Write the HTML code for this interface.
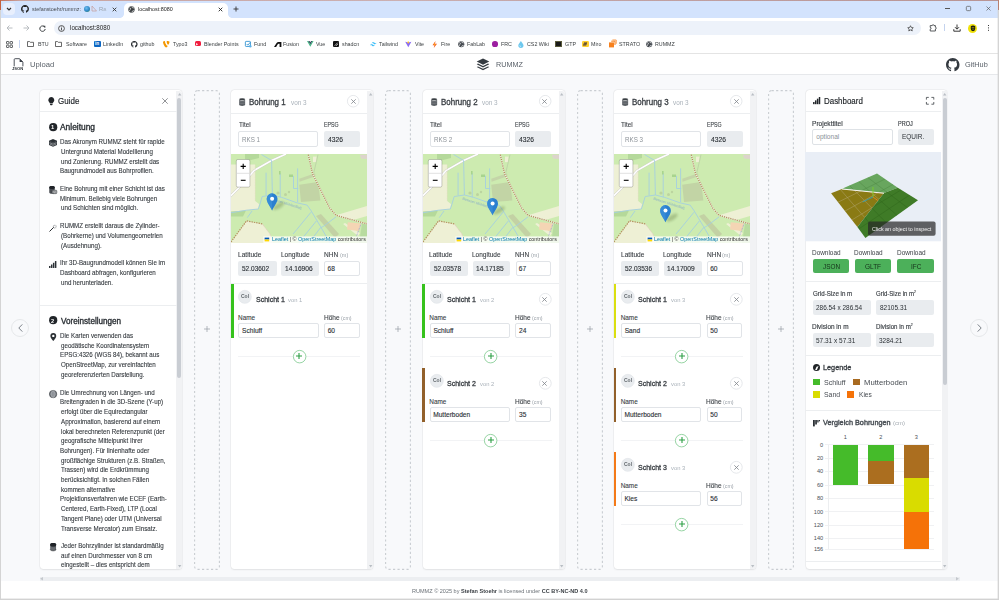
<!DOCTYPE html>
<html><head><meta charset="utf-8">
<style>
*{box-sizing:border-box;margin:0;padding:0}
html,body{width:999px;height:600px;overflow:hidden;background:#fff;font-family:"Liberation Sans",sans-serif;color:#212529;position:relative}
.a{position:absolute}
.n{position:absolute;white-space:nowrap;line-height:1}
svg{position:absolute;overflow:visible}
</style></head><body>
<!-- tab bar -->
<div class="a" style="left:0;top:0;width:999px;height:18px;background:#d3e3fd;border-radius:2px 4px 0 0"></div>
<div class="a" style="left:3px;top:3px;width:12px;height:12px;border-radius:4px;background:#e8effd"></div>
<svg style="left:6px;top:7px" width="6" height="4" viewBox="0 0 6 4"><path d="M1 1 L3 3 L5 1" stroke="#333" stroke-width="1.2" fill="none"/></svg>
<svg style="left:21px;top:5px" width="8" height="8" viewBox="0 0 16 16"><path fill="#222" d="M8 0C3.58 0 0 3.58 0 8c0 3.54 2.29 6.53 5.47 7.59.4.07.55-.17.55-.38 0-.19-.01-.82-.01-1.49-2.010.37-2.530-.49-2.690-.94-.09-.23-.48-.94-.82-1.13-.28-.15-.68-.52-.01-.53.63-.01 1.080.58 1.230.82.72 1.21 1.870.87 2.330.66.07-.52.28-.87.51-1.07-1.780-.2-3.640-.89-3.640-3.95 0-.87.31-1.59.82-2.150-.08-.2-.36-1.02.08-2.12 0 0 .67-.21 2.2.82.64-.18 1.320-.27 2-.27.68 0 1.360.09 2 .27 1.530-1.040 2.2-.82 2.2-.82.44 1.1.16 1.92.08 2.120.51.56.82 1.270.82 2.150 0 3.070-1.870 3.750-3.650 3.950.29.25.54.73.54 1.48 0 1.070-.01 1.930-.01 2.2 0 .21.15.46.55.38A8.013 8.013 0 0016 8c0-4.42-3.58-8-8-8z"/></svg>
<div class="n" style="left:32.46px;top:7.20px;font-size:5.8px;color:#474b50;transform:scaleX(0.927);transform-origin:0 0;">stefanstoehr/rummz:</div>
<div class="a" style="left:84px;top:6px;width:6px;height:6px;border-radius:50%;background:radial-gradient(circle at 40% 35%,#6ec0f0 0,#2f86c8 55%,#3a8a40 100%)"></div>
<svg style="left:91px;top:5px" width="6" height="7" viewBox="0 0 6 7"><path d="M1 1 L1 6 L5.5 6 Z" fill="none" stroke="#c7a2a2" stroke-width=".8"/></svg>
<div class="n" style="left:98.52px;top:7.20px;font-size:5.8px;color:#9aa3ad;transform:scaleX(1.007);transform-origin:0 0;">Ra</div>
<div class="a" style="left:104px;top:3px;width:5px;height:12px;background:linear-gradient(90deg,rgba(211,227,253,0),#d3e3fd)"></div>
<svg style="left:112px;top:7px" width="5" height="5" viewBox="0 0 5 5"><path d="M.7 .7L4.3 4.3M4.3 .7L.7 4.3" stroke="#333" stroke-width=".9"/></svg>
<!-- active tab -->
<div class="a" style="left:124px;top:3px;width:104px;height:16px;background:#fff;border-radius:5px 5px 0 0"></div>
<div class="a" style="left:120px;top:14px;width:4px;height:4px;background:radial-gradient(circle at 0 0,#d3e3fd 3.5px,#fff 4.2px)"></div>
<div class="a" style="left:228px;top:14px;width:4px;height:4px;background:radial-gradient(circle at 100% 0,#d3e3fd 3.5px,#fff 4.2px)"></div>
<svg style="left:128px;top:6px" width="7" height="7" viewBox="0 0 16 16"><circle cx="8" cy="8" r="7.2" fill="#3c4043"/><path d="M3 4c2 0 3 1 3 2.5S5 8 4 9s0 3 0 3M9 1.5c0 2 1 2.5 2.5 2.5S14 5 14 5M9 14.5c0-2 1-3 2.5-3.5s2.5 0 2.5 0" stroke="#fff" stroke-width="1.6" fill="none"/></svg>
<div class="n" style="left:137.64px;top:7.20px;font-size:5.8px;color:#1f1f1f;transform:scaleX(0.932);transform-origin:0 0;">localhost:8080</div>
<svg style="left:218px;top:7px" width="5" height="5" viewBox="0 0 5 5"><path d="M.7 .7L4.3 4.3M4.3 .7L.7 4.3" stroke="#222" stroke-width=".9"/></svg>
<svg style="left:233px;top:6px" width="6" height="6" viewBox="0 0 6 6"><path d="M3 .5V5.5M.5 3H5.5" stroke="#333" stroke-width=".9"/></svg>
<!-- window controls -->
<div class="a" style="left:945px;top:8.3px;width:5px;height:.7px;background:#555"></div>
<svg style="left:965.5px;top:6.3px" width="5" height="5" viewBox="0 0 5 5"><rect x=".35" y=".35" width="4.3" height="4.3" rx="1" fill="none" stroke="#555" stroke-width=".7"/></svg>
<svg style="left:986px;top:6px" width="5" height="5" viewBox="0 0 5 5"><path d="M.5 .5L4.5 4.5M4.5 .5L.5 4.5" stroke="#555" stroke-width=".65"/></svg>
<!-- toolbar -->
<div class="a" style="left:0;top:18px;width:999px;height:18px;background:#fff"></div>
<svg style="left:6px;top:25px" width="7" height="6" viewBox="0 0 7 6"><path d="M6.5 3H1M3.5 .5L1 3L3.5 5.5" stroke="#b8bcc0" stroke-width="1" fill="none"/></svg>
<svg style="left:23px;top:25px" width="7" height="6" viewBox="0 0 7 6"><path d="M.5 3H6M3.5 .5L6 3L3.5 5.5" stroke="#b8bcc0" stroke-width="1" fill="none"/></svg>
<svg style="left:39px;top:24.5px" width="7" height="7" viewBox="0 0 7 7"><path d="M5.8 2.2A2.7 2.7 0 1 0 6.2 4" stroke="#3c4043" stroke-width="1" fill="none"/><path d="M4 .8H6.3V3.1Z" fill="#3c4043"/></svg>
<div class="a" style="left:54px;top:21px;width:867px;height:14px;border-radius:7px;background:#edf2fa"></div>
<svg style="left:58px;top:24.5px" width="7" height="7" viewBox="0 0 7 7"><circle cx="3.5" cy="3.5" r="2.9" stroke="#444" stroke-width=".9" fill="none"/><path d="M3.5 3V5.3" stroke="#444" stroke-width=".9"/><circle cx="3.5" cy="1.9" r=".5" fill="#444"/></svg>
<div class="n" style="left:69.59px;top:25.00px;font-size:6.3px;color:#1f1f1f;transform:scaleX(0.991);transform-origin:0 0;">localhost:8080</div>
<svg style="left:907px;top:24.5px" width="7" height="7" viewBox="0 0 24 24"><path d="M12 2.5l2.9 6.2 6.6.6-5 4.5 1.5 6.6L12 17l-6 3.4 1.5-6.6-5-4.5 6.6-.6z" fill="none" stroke="#333" stroke-width="2.4"/></svg>
<svg style="left:929px;top:24px" width="8" height="8" viewBox="0 0 8 8"><path d="M1.2 1.6H3.2A.9 .9 0 0 1 5 1.6H6.4V3.2A.9 .9 0 0 1 6.4 5V7H1.2V5.2A.9 .9 0 0 0 1.2 3.4Z" fill="none" stroke="#3c4043" stroke-width=".85"/></svg>
<div class="a" style="left:944px;top:24px;width:1px;height:7px;background:#c4d3ee"></div>
<svg style="left:953px;top:24px" width="8" height="8" viewBox="0 0 8 8"><path d="M4 .5V5M2 3.2L4 5.2L6 3.2M.8 5.2V7.2H7.2V5.2" stroke="#222" stroke-width=".9" fill="none"/></svg>
<div class="a" style="left:968px;top:23.5px;width:9px;height:9px;border-radius:50%;background:#f0e20a"></div>
<svg style="left:969.5px;top:25px" width="6" height="6.5" viewBox="0 0 6 6.5"><path d="M.8 1.2Q3 0 5.2 1.2V3.6Q5.2 6.2 3 6.2Q.8 6.2 .8 3.6Z" fill="#151515"/><path d="M1.6 2.4H4.4" stroke="#f0e20a" stroke-width=".5"/><path d="M1.8 3.8Q3 4.8 4.2 3.8" stroke="#f0e20a" stroke-width=".5" fill="none"/></svg>
<div class="a" style="left:988px;top:25px;width:1.2px;height:1.2px;background:#333;box-shadow:0 2.4px 0 #333,0 4.8px 0 #333"></div>
<!-- bookmarks bar -->
<div class="a" style="left:0;top:36px;width:999px;height:17px;background:#fff"></div>
<div class="a" style="left:0;top:52.5px;width:999px;height:1px;background:#e4e4e4"></div>
<svg style="left:6px;top:41px" width="7" height="7" viewBox="0 0 7 7"><rect x=".5" y=".5" width="2.4" height="2.4" rx=".4" fill="none" stroke="#3c4043" stroke-width=".8"/><rect x="4.1" y=".5" width="2.4" height="2.4" rx=".4" fill="none" stroke="#3c4043" stroke-width=".8"/><rect x=".5" y="4.1" width="2.4" height="2.4" rx=".4" fill="none" stroke="#3c4043" stroke-width=".8"/><rect x="4.1" y="4.1" width="2.4" height="2.4" rx=".4" fill="none" stroke="#3c4043" stroke-width=".8"/></svg>
<div class="a" style="left:19px;top:40px;width:1px;height:8px;background:#c8d6f0"></div>
<!-- bookmarks -->
<svg style="left:27px;top:41px" width="7" height="6" viewBox="0 0 7 6"><path d="M.5 .6H2.6L3.3 1.3H6.5V5.5H.5Z" fill="none" stroke="#444" stroke-width=".8"/></svg>
<div class="n" style="left:37.56px;top:42.10px;font-size:5.6px;color:#3c4043;transform:scaleX(0.950);transform-origin:0 0;">BTU</div>
<svg style="left:55px;top:41px" width="7" height="6" viewBox="0 0 7 6"><path d="M.5 .6H2.6L3.3 1.3H6.5V5.5H.5Z" fill="none" stroke="#444" stroke-width=".8"/></svg>
<div class="n" style="left:65.77px;top:42.10px;font-size:5.6px;color:#3c4043;transform:scaleX(0.950);transform-origin:0 0;">Software</div>
<div class="a" style="left:94px;top:40.8px;width:6.5px;height:6.5px;background:#0a66c2;border-radius:1px"></div><div class="n" style="left:95.1px;top:41.6px;font-size:4.6px;font-weight:700;color:#fff">in</div>
<div class="n" style="left:103.31px;top:42.10px;font-size:5.6px;color:#3c4043;transform:scaleX(0.950);transform-origin:0 0;">LinkedIn</div>
<svg style="left:130.7px;top:40.7px" width="6.6" height="6.6" viewBox="0 0 16 16"><path fill="#1f2328" d="M8 0C3.58 0 0 3.58 0 8c0 3.54 2.290 6.530 5.470 7.590.4.07.55-.17.55-.38 0-.19-.01-.82-.01-1.490-2.010.37-2.530-.49-2.690-.94-.09-.23-.48-.94-.82-1.130-.28-.15-.68-.52-.01-.53.63-.01 1.080.58 1.230.82.72 1.210 1.870.87 2.330.66.07-.52.28-.87.51-1.070-1.780-.2-3.640-.89-3.640-3.950 0-.87.31-1.590.82-2.150-.08-.2-.36-1.020.08-2.120 0 0 .67-.21 2.2.82.64-.18 1.320-.27 2-.27.68 0 1.360.09 2 .27 1.530-1.040 2.2-.82 2.2-.82.44 1.1.16 1.920.08 2.120.51.56.82 1.270.82 2.150 0 3.070-1.870 3.750-3.650 3.950.29.25.54.73.54 1.480 0 1.070-.01 1.930-.01 2.2 0 .21.15.46.55.38A8.013 8.013 0 0016 8c0-4.420-3.580-8-8-8z"/></svg>
<div class="n" style="left:140.08px;top:42.10px;font-size:5.6px;color:#3c4043;transform:scaleX(0.950);transform-origin:0 0;">github</div>
<svg style="left:163px;top:40.5px" width="6.5" height="7" viewBox="0 0 13 14"><path d="M9.5 9.5C9.3 9.6 9 9.6 8.8 9.6 6.9 9.6 4 3 4 0.8 4 .5 4.1.2 4.2 0 2 .3 .5.9 0 1.6 0 1.8 0 2 0 2.1 0 5.4 3.6 13 6.2 13c1.2 0 3.1-2 3.3-3.5zM8 0C10.4 0 13 .4 13 1.700c0 2.500-1.600 5.600-2.400 5.600-1.500 0-3.300-4-3.300-6C7.300.400 7.600 0 8 0z" fill="#f49700"/></svg>
<div class="n" style="left:172.68px;top:42.10px;font-size:5.6px;color:#3c4043;transform:scaleX(0.950);transform-origin:0 0;">Typo3</div>
<div class="a" style="left:194.5px;top:41.2px;width:6.8px;height:5px;background:#f01d3e;border-radius:1.5px"></div><svg style="left:195.6px;top:42.6px" width="2.2" height="2.4" viewBox="0 0 2 2.4"><path d="M0 0L2 1.2L0 2.4Z" fill="#fff"/></svg>
<div class="n" style="left:203.96px;top:42.10px;font-size:5.6px;color:#3c4043;transform:scaleX(0.950);transform-origin:0 0;">Blender Points</div>
<svg style="left:244.8px;top:40.6px" width="6.6" height="6.6" viewBox="0 0 7 7"><rect x=".4" y=".4" width="5.4" height="5.4" rx=".8" fill="none" stroke="#2b8fd0" stroke-width=".9"/><path d="M1.8 3.2L3 4.4L5.8 1.2" stroke="#2b8fd0" stroke-width=".9" fill="none"/><circle cx="5.6" cy="5.6" r="1.3" fill="#5ab0e8"/></svg>
<div class="n" style="left:254.26px;top:42.10px;font-size:5.6px;color:#3c4043;transform:scaleX(0.950);transform-origin:0 0;">Fund</div>
<svg style="left:273.7px;top:41.5px" width="7.4" height="5" viewBox="0 0 7.4 5"><path d="M0 5L2.6 1Q3.4 0 4.4 0H7.4V5H5.6V1.8H4.6Q4 1.8 3.6 2.5L2.1 5Z" fill="#111"/></svg>
<div class="n" style="left:283.31px;top:42.10px;font-size:5.6px;color:#3c4043;transform:scaleX(0.950);transform-origin:0 0;">Fusion</div>
<svg style="left:307px;top:41.2px" width="6.6" height="5.8" viewBox="0 0 26 23"><path d="M0 0L13 22.5L26 0H21L13 14L5 0Z" fill="#41b883"/><path d="M5 0L13 14L21 0H16L13 5.3L10 0Z" fill="#35495e"/></svg>
<div class="n" style="left:315.98px;top:42.10px;font-size:5.6px;color:#3c4043;transform:scaleX(0.950);transform-origin:0 0;">Vue</div>
<div class="a" style="left:332.6px;top:40.7px;width:6.5px;height:6.5px;background:#111;border-radius:1px"></div><svg style="left:333.70000000000005px;top:41.8px" width="4.4" height="4.4" viewBox="0 0 4 4"><path d="M3.4.6L.6 3.4M3.6 1.8L1.8 3.6" stroke="#fff" stroke-width=".6"/></svg>
<div class="n" style="left:342.46px;top:42.10px;font-size:5.6px;color:#3c4043;transform:scaleX(0.950);transform-origin:0 0;">shadcn</div>
<svg style="left:369.5px;top:41.5px" width="6.6" height="4.4" viewBox="0 0 54 33"><path fill="#38bdf8" d="M27 0c-7.2 0-11.7 3.600-13.500 10.800 2.700-3.600 5.850-4.950 9.450-4.050 2.054.513 3.522 2.004 5.147 3.653C30.744 13.090 33.808 16.200 40.500 16.200c7.200 0 11.700-3.600 13.500-10.800-2.700 3.600-5.850 4.950-9.450 4.050-2.054-.513-3.522-2.004-5.147-3.653C36.756 3.110 33.692 0 27 0zM13.500 16.200C6.300 16.200 1.800 19.800 0 27c2.700-3.600 5.850-4.950 9.450-4.050 2.054.514 3.522 2.004 5.147 3.653C17.244 29.290 20.308 32.400 27 32.400c7.200 0 11.700-3.600 13.500-10.800-2.700 3.600-5.850 4.950-9.450 4.050-2.054-.513-3.522-2.004-5.147-3.653C23.256 19.310 20.192 16.200 13.500 16.200z"/></svg>
<div class="n" style="left:378.88px;top:42.10px;font-size:5.6px;color:#3c4043;transform:scaleX(0.950);transform-origin:0 0;">Tailwind</div>
<svg style="left:405.3px;top:41px" width="6.6" height="6.4" viewBox="0 0 10 10"><path d="M.2 1.2L5 9.6L9.8 1.2L5 2.2Z" fill="#8a6cf5"/><path d="M5.5 .2L3.3 1.6L4.8 4.8L5.2 3.2L6.4 3.4Z" fill="#ffc517"/></svg>
<div class="n" style="left:415.18px;top:42.10px;font-size:5.6px;color:#3c4043;transform:scaleX(0.950);transform-origin:0 0;">Vite</div>
<svg style="left:432px;top:40.6px" width="5.5" height="7" viewBox="0 0 11 14"><path d="M7 0L1 8.5H5L3.5 14L10 5.5H6Z" fill="#ef4b22"/><path d="M6 2.5L3 7.5H5.5L4.5 11L8 6.5H6Z" fill="#ffb020"/></svg>
<div class="n" style="left:440.86px;top:42.10px;font-size:5.6px;color:#3c4043;transform:scaleX(0.950);transform-origin:0 0;">Fire</div>
<svg style="left:457.7px;top:40.7px" width="6.5" height="6.5" viewBox="0 0 16 16"><circle cx="8" cy="8" r="7.5" fill="#474c52"/><path d="M3 4c2 0 3 1 3 2.500S5 8 4 9s0 3 0 3M9 1.500c0 2 1 2.500 2.500 2.500S14 5 14 5M9 14.500c0-2 1-3 2.500-3.500s2.500 0 2.500 0" stroke="#fff" stroke-width="1.700" fill="none"/></svg>
<div class="n" style="left:466.56px;top:42.10px;font-size:5.6px;color:#3c4043;transform:scaleX(0.950);transform-origin:0 0;">FabLab</div>
<div class="a" style="left:492px;top:41.2px;width:5.7px;height:5.7px;border-radius:50%;background:#9c1ea0"></div>
<div class="n" style="left:500.56px;top:42.10px;font-size:5.6px;color:#3c4043;transform:scaleX(0.950);transform-origin:0 0;">FRC</div>
<svg style="left:518.3px;top:40.5px" width="5.8" height="7" viewBox="0 0 10 12"><path d="M5 0C3 3 .5 5.5.5 7.5A4.5 4.5 0 0 0 9.5 7.5C9.5 5.5 7 3 5 0Z" fill="#6ec8ee"/><path d="M3 7.5A2 2 0 0 0 5 9.5" stroke="#fff" stroke-width=".9" fill="none"/></svg>
<div class="n" style="left:527.13px;top:42.10px;font-size:5.6px;color:#3c4043;transform:scaleX(0.950);transform-origin:0 0;">CS2 Wiki</div>
<div class="a" style="left:555px;top:40.7px;width:6.5px;height:6.5px;background:#1a1a1a;border:.7px solid #5a5a3a"></div>
<div class="n" style="left:564.53px;top:42.10px;font-size:5.6px;color:#3c4043;transform:scaleX(0.950);transform-origin:0 0;">GTP</div>
<div class="a" style="left:582px;top:40.7px;width:6.5px;height:6.5px;background:#ffd02f;border-radius:1.3px"></div><svg style="left:583.1px;top:42px" width="4" height="4" viewBox="0 0 4 4"><path d="M.5 3.6L1.6.4M1.6 3.6L2.7.4M2.7 3.6L3.6.4" stroke="#050038" stroke-width=".7"/></svg>
<div class="n" style="left:590.81px;top:42.10px;font-size:5.6px;color:#3c4043;transform:scaleX(0.950);transform-origin:0 0;">Miro</div>
<svg style="left:609.4px;top:40.3px" width="7.2" height="7.4" viewBox="0 0 7.2 7.4"><rect x="0" y="2.4" width="5" height="5" fill="#f7811e"/><path d="M2.2 1.2H6V5" stroke="#f7811e" stroke-width="1" fill="none"/><path d="M3.4 0H7.2V3.8" stroke="#f7811e" stroke-width=".8" fill="none"/></svg>
<div class="n" style="left:619.07px;top:42.10px;font-size:5.6px;color:#3c4043;transform:scaleX(0.950);transform-origin:0 0;">STRATO</div>
<svg style="left:645.7px;top:40.7px" width="6.5" height="6.5" viewBox="0 0 16 16"><circle cx="8" cy="8" r="7.5" fill="#474c52"/><path d="M3 4c2 0 3 1 3 2.500S5 8 4 9s0 3 0 3M9 1.500c0 2 1 2.500 2.500 2.500S14 5 14 5M9 14.500c0-2 1-3 2.500-3.500s2.500 0 2.500 0" stroke="#fff" stroke-width="1.700" fill="none"/></svg>
<div class="n" style="left:654.96px;top:42.10px;font-size:5.6px;color:#3c4043;transform:scaleX(0.950);transform-origin:0 0;">RUMMZ</div>
<div class="a" style="left:0px;top:53.5px;width:999.00px;height:21.50px;background:#fff"></div>
<div class="a" style="left:0px;top:74.3px;width:999.00px;height:1.00px;background:#e6e8eb"></div>
<svg style="left:12.5px;top:58px" width="11" height="13" viewBox="0 0 11 13"><path d="M1.2 8.3V1.6Q1.2 .7 2.1 .7H6.6L9.9 4V8.3" fill="none" stroke="#3a4048" stroke-width=".9"/><path d="M6.6 .7V4H9.9Z" fill="#3a4048"/></svg>
<div class="n" style="left:11.94px;top:67.80px;font-size:3.8px;font-weight:700;color:#2d3339;transform:scaleX(1.095);transform-origin:0 0;">JSON</div>
<div class="n" style="left:30.22px;top:61.00px;font-size:7.4px;color:#5a6169;transform:scaleX(1.035);transform-origin:0 0;">Upload</div>
<svg style="left:476px;top:57.5px" width="14" height="13" viewBox="0 0 14 13"><path d="M7 .5L13.3 3.6L7 6.7L.7 3.6Z" fill="#343a40"/><path d="M2 5.6L.7 6.3L7 9.4L13.3 6.3L12 5.6L7 8Z" fill="#343a40"/><path d="M2 8.4L.7 9.1L7 12.2L13.3 9.1L12 8.4L7 10.8Z" fill="#343a40"/></svg>
<div class="n" style="left:496.21px;top:61.20px;font-size:7.4px;color:#5a6169;transform:scaleX(0.978);transform-origin:0 0;">RUMMZ</div>
<svg style="left:945.5px;top:58px" width="13.5" height="13.5" viewBox="0 0 16 16"><path fill="#343a40" d="M8 0C3.58 0 0 3.58 0 8c0 3.54 2.29 6.53 5.47 7.59.4.07.55-.17.55-.38 0-.19-.01-.82-.01-1.49-2.01.37-2.53-.49-2.69-.94-.09-.23-.48-.94-.82-1.13-.28-.15-.68-.52-.01-.53.63-.01 1.08.58 1.23.82.72 1.21 1.87.87 2.33.66.07-.52.28-.87.51-1.07-1.78-.2-3.64-.89-3.64-3.95 0-.87.31-1.59.82-2.15-.08-.2-.36-1.02.08-2.12 0 0 .67-.21 2.2.82.64-.18 1.32-.27 2-.27.68 0 1.36.09 2 .27 1.53-1.04 2.2-.82 2.2-.82.44 1.1.16 1.92.08 2.12.51.56.82 1.27.82 2.15 0 3.07-1.87 3.75-3.65 3.95.29.25.54.73.54 1.48 0 1.07-.01 1.93-.01 2.2 0 .21.15.46.55.38A8.013 8.013 0 0016 8c0-4.42-3.58-8-8-8z"/></svg>
<div class="n" style="left:965.33px;top:61.00px;font-size:7.4px;color:#5a6169;transform:scaleX(0.988);transform-origin:0 0;">GitHub</div>
<div class="a" style="left:0px;top:75.3px;width:999.00px;height:505.70px;background:#f8f9fb"></div>
<div class="a" style="left:40px;top:576.5px;width:920.00px;height:4.00px;background:#eceef1"></div>
<svg style="left:40px;top:576.8px" width="3" height="3.4" viewBox="0 0 3 3.4"><path d="M3 0V3.4L0 1.7Z" fill="#c4c8cd"/></svg>
<svg style="left:955.5px;top:576.8px" width="3" height="3.4" viewBox="0 0 3 3.4"><path d="M0 0V3.4L3 1.7Z" fill="#c4c8cd"/></svg>
<div class="a" style="left:0px;top:581px;width:999.00px;height:18.00px;background:#fff"></div>
<div class="n" style="left:411.75px;top:588.60px;font-size:5.6px;color:#6c7278;transform:scaleX(0.990);transform-origin:0 0;">RUMMZ © 2025 by <b style="color:#3a3f44">Stefan Stoehr</b> is licensed under <b style="color:#3a3f44">CC BY-NC-ND 4.0</b></div>
<svg style="left:10.5px;top:318.5px" width="18" height="18" viewBox="0 0 18 18"><circle cx="9" cy="9" r="8.5" fill="none" stroke="#e3e5e8" stroke-width=".9"/></svg>
<svg style="left:17.5px;top:323.5px" width="5" height="8" viewBox="0 0 5 8"><path d="M4.3 .4L.8 4L4.3 7.6" fill="none" stroke="#6c737a" stroke-width=".9"/></svg>
<svg style="left:970px;top:318.5px" width="18" height="18" viewBox="0 0 18 18"><circle cx="9" cy="9" r="8.5" fill="none" stroke="#e3e5e8" stroke-width=".9"/></svg>
<svg style="left:976.5px;top:323.5px" width="5" height="8" viewBox="0 0 5 8"><path d="M.7 .4L4.2 4L.7 7.6" fill="none" stroke="#6c737a" stroke-width=".9"/></svg>
<svg style="left:193.8px;top:89.8px" width="26" height="480" viewBox="0 0 26 480"><rect x=".6" y=".6" width="24.8" height="478.8" rx="3" fill="none" stroke="#c9cdd2" stroke-width="1.1" stroke-dasharray="2.2 2.3"/></svg>
<svg style="left:203.8px;top:326px" width="6" height="6" viewBox="0 0 6 6"><path d="M3 0V6M0 3H6" stroke="#959ca3" stroke-width=".7"/></svg>
<svg style="left:385.3px;top:89.8px" width="26" height="480" viewBox="0 0 26 480"><rect x=".6" y=".6" width="24.8" height="478.8" rx="3" fill="none" stroke="#c9cdd2" stroke-width="1.1" stroke-dasharray="2.2 2.3"/></svg>
<svg style="left:395.3px;top:326px" width="6" height="6" viewBox="0 0 6 6"><path d="M3 0V6M0 3H6" stroke="#959ca3" stroke-width=".7"/></svg>
<svg style="left:576.8px;top:89.8px" width="26" height="480" viewBox="0 0 26 480"><rect x=".6" y=".6" width="24.8" height="478.8" rx="3" fill="none" stroke="#c9cdd2" stroke-width="1.1" stroke-dasharray="2.2 2.3"/></svg>
<svg style="left:586.8px;top:326px" width="6" height="6" viewBox="0 0 6 6"><path d="M3 0V6M0 3H6" stroke="#959ca3" stroke-width=".7"/></svg>
<svg style="left:768.1px;top:89.8px" width="26" height="480" viewBox="0 0 26 480"><rect x=".6" y=".6" width="24.8" height="478.8" rx="3" fill="none" stroke="#c9cdd2" stroke-width="1.1" stroke-dasharray="2.2 2.3"/></svg>
<svg style="left:778.1px;top:326px" width="6" height="6" viewBox="0 0 6 6"><path d="M3 0V6M0 3H6" stroke="#959ca3" stroke-width=".7"/></svg>
<div class="a" style="left:40px;top:90.2px;width:142.4px;height:479.3px;background:#fff;border-radius:3.5px;box-shadow:0 0 0 .6px rgba(0,0,0,.05),0 .5px 2px rgba(0,0,0,.07)"></div>
<div class="a" style="left:176.4px;top:91px;width:6px;height:478px;background:#f1f2f4;border-radius:0 3px 3px 0"></div>
<svg style="left:177.8px;top:92.6px" width="3.4" height="2.6" viewBox="0 0 3.4 2.6"><path d="M0 2.6H3.4L1.7 0Z" fill="#b9bec4"/></svg>
<svg style="left:177.8px;top:565.4px" width="3.4" height="2.6" viewBox="0 0 3.4 2.6"><path d="M0 0H3.4L1.7 2.6Z" fill="#b9bec4"/></svg>
<div class="a" style="left:177.4px;top:98px;width:4px;height:280px;background:#c9cdd3;border-radius:2px"></div>
<div class="a" style="left:231.3px;top:90.2px;width:142.0px;height:479.3px;background:#fff;border-radius:3.5px;box-shadow:0 0 0 .6px rgba(0,0,0,.05),0 .5px 2px rgba(0,0,0,.07)"></div>
<div class="a" style="left:367.3px;top:91px;width:6px;height:478px;background:#f1f2f4;border-radius:0 3px 3px 0"></div>
<svg style="left:368.7px;top:92.6px" width="3.4" height="2.6" viewBox="0 0 3.4 2.6"><path d="M0 2.6H3.4L1.7 0Z" fill="#b9bec4"/></svg>
<svg style="left:368.7px;top:565.4px" width="3.4" height="2.6" viewBox="0 0 3.4 2.6"><path d="M0 0H3.4L1.7 2.6Z" fill="#b9bec4"/></svg>
<div class="a" style="left:422.6px;top:90.2px;width:142.0px;height:479.3px;background:#fff;border-radius:3.5px;box-shadow:0 0 0 .6px rgba(0,0,0,.05),0 .5px 2px rgba(0,0,0,.07)"></div>
<div class="a" style="left:558.6px;top:91px;width:6px;height:478px;background:#f1f2f4;border-radius:0 3px 3px 0"></div>
<svg style="left:560.0px;top:92.6px" width="3.4" height="2.6" viewBox="0 0 3.4 2.6"><path d="M0 2.6H3.4L1.7 0Z" fill="#b9bec4"/></svg>
<svg style="left:560.0px;top:565.4px" width="3.4" height="2.6" viewBox="0 0 3.4 2.6"><path d="M0 0H3.4L1.7 2.6Z" fill="#b9bec4"/></svg>
<div class="a" style="left:613.9px;top:90.2px;width:142.0px;height:479.3px;background:#fff;border-radius:3.5px;box-shadow:0 0 0 .6px rgba(0,0,0,.05),0 .5px 2px rgba(0,0,0,.07)"></div>
<div class="a" style="left:749.9px;top:91px;width:6px;height:478px;background:#f1f2f4;border-radius:0 3px 3px 0"></div>
<svg style="left:751.3px;top:92.6px" width="3.4" height="2.6" viewBox="0 0 3.4 2.6"><path d="M0 2.6H3.4L1.7 0Z" fill="#b9bec4"/></svg>
<svg style="left:751.3px;top:565.4px" width="3.4" height="2.6" viewBox="0 0 3.4 2.6"><path d="M0 0H3.4L1.7 2.6Z" fill="#b9bec4"/></svg>
<div class="a" style="left:805.7px;top:90.2px;width:141.79999999999995px;height:479.3px;background:#fff;border-radius:3.5px;box-shadow:0 0 0 .6px rgba(0,0,0,.05),0 .5px 2px rgba(0,0,0,.07)"></div>
<div class="a" style="left:941.5px;top:91px;width:6px;height:478px;background:#f1f2f4;border-radius:0 3px 3px 0"></div>
<svg style="left:942.9px;top:92.6px" width="3.4" height="2.6" viewBox="0 0 3.4 2.6"><path d="M0 2.6H3.4L1.7 0Z" fill="#b9bec4"/></svg>
<svg style="left:942.9px;top:565.4px" width="3.4" height="2.6" viewBox="0 0 3.4 2.6"><path d="M0 0H3.4L1.7 2.6Z" fill="#b9bec4"/></svg>
<div class="a" style="left:942.5px;top:98px;width:4px;height:287px;background:#c9cdd3;border-radius:2px"></div>
<svg style="left:47.8px;top:96.8px" width="6.6" height="8.2" viewBox="0 0 12 15"><path d="M6 0A5.6 5.6 0 0 0 2.2 9.6C3.1 10.5 3.4 11.2 3.5 12H8.5C8.6 11.2 8.9 10.5 9.8 9.6A5.6 5.6 0 0 0 6 0Z" fill="#212529"/><path d="M3.7 13H8.3V13.8Q8.3 15 7 15H5Q3.7 15 3.7 13.8Z" fill="#212529"/></svg>
<div class="n" style="left:58.30px;top:97.50px;font-size:8.2px;color:#212529;transform:scaleX(0.976);transform-origin:0 0;-webkit-text-stroke:.15px #212529">Guide</div>
<svg style="left:162px;top:98px" width="6" height="6" viewBox="0 0 6 6"><path d="M.3 .3L5.7 5.7M5.7 .3L.3 5.7" stroke="#6c6f73" stroke-width=".75"/></svg>
<div class="a" style="left:40px;top:110.6px;width:136.5px;height:1px;background:#eceef0"></div>
<svg style="left:48.599999999999994px;top:122.8px" width="8.4" height="8.4" viewBox="0 0 8.4 8.4"><circle cx="4.2" cy="4.2" r="4.1" fill="#212529"/></svg>
<div class="n" style="left:51.09px;top:125.00px;font-size:5px;font-weight:700;color:#fff;transform:scaleX(1.154);transform-origin:0 0;">1</div>
<div class="n" style="left:60.48px;top:123.20px;font-size:8.3px;color:#2b3035;transform:scaleX(1.013);transform-origin:0 0;-webkit-text-stroke:.35px #2b3035">Anleitung</div>
<svg style="left:48.8px;top:139px" width="8" height="7.8" viewBox="0 0 16 15.6"><path d="M8 0L16 3.6V12L8 15.6L0 12V3.6Z" fill="#2b3035"/><path d="M1 7.2L8 10.2L15 7.2M1 9.8L8 12.8L15 9.8" stroke="#d0d3d6" stroke-width="1.1" fill="none"/><path d="M1 4.6L8 7.6L15 4.6" stroke="#6a6e72" stroke-width=".9" fill="none"/></svg>
<div class="n" style="left:60.49px;top:139.30px;font-size:6.4px;color:#33383d;transform:scaleX(0.970);transform-origin:0 0;-webkit-text-stroke:.1px #33383d">Das Akronym RUMMZ steht für rapide</div>
<div class="n" style="left:60.53px;top:149.00px;font-size:6.4px;color:#33383d;transform:scaleX(0.970);transform-origin:0 0;-webkit-text-stroke:.1px #33383d">Untergrund Material Modellierung</div>
<div class="n" style="left:60.60px;top:158.70px;font-size:6.4px;color:#33383d;transform:scaleX(0.970);transform-origin:0 0;-webkit-text-stroke:.1px #33383d">und Zonierung. RUMMZ erstellt das</div>
<div class="n" style="left:60.49px;top:168.40px;font-size:6.4px;color:#33383d;transform:scaleX(0.970);transform-origin:0 0;-webkit-text-stroke:.1px #33383d">Baugrundmodell aus Bohrprofilen.</div>
<svg style="left:49.3px;top:186.3px" width="8" height="7.8" viewBox="0 0 16 15.6"><path d="M.5 2.5C.5 1.1 3 0 6 0S11.5 1.1 11.5 2.5V13C11.5 14.4 9 15.5 6 15.5S.5 14.4.5 13Z" fill="#4a4e53"/><path d="M.5 2.5C.5 1.1 3 0 6 0S11.5 1.1 11.5 2.5V4C11.5 5.4 9 6 6 6S.5 5.4.5 4Z" fill="#1f2327"/><rect x="6.5" y="8.6" width="9" height="6.6" rx="1.2" fill="#fff" stroke="#2b3035" stroke-width="1.3"/><circle cx="9.3" cy="11.9" r="1.4" fill="none" stroke="#2b3035" stroke-width="1"/><circle cx="12.7" cy="11.9" r="1.4" fill="none" stroke="#2b3035" stroke-width="1"/></svg>
<div class="n" style="left:60.49px;top:186.00px;font-size:6.4px;color:#33383d;transform:scaleX(0.970);transform-origin:0 0;-webkit-text-stroke:.1px #33383d">Eine Bohrung mit einer Schicht ist das</div>
<div class="n" style="left:60.49px;top:195.70px;font-size:6.4px;color:#33383d;transform:scaleX(0.970);transform-origin:0 0;-webkit-text-stroke:.1px #33383d">Minimum. Beliebig viele Bohrungen</div>
<div class="n" style="left:60.60px;top:205.40px;font-size:6.4px;color:#33383d;transform:scaleX(0.970);transform-origin:0 0;-webkit-text-stroke:.1px #33383d">und Schichten sind möglich.</div>
<svg style="left:49px;top:223.5px" width="8" height="8" viewBox="0 0 16 16"><path d="M1 15L9.5 6.5" stroke="#1f2327" stroke-width="1.9"/><path d="M11.5 1.5V4M11.5 7V9.5M7.5 5.5H10M13 5.5H15.5M8.8 2.8L10 4M13 7L14.2 8.2M14.2 2.8L13 4" stroke="#5a5e63" stroke-width="1"/></svg>
<div class="n" style="left:60.49px;top:223.10px;font-size:6.4px;color:#33383d;transform:scaleX(0.970);transform-origin:0 0;-webkit-text-stroke:.1px #33383d">RUMMZ erstellt daraus die Zylinder-</div>
<div class="n" style="left:60.62px;top:232.80px;font-size:6.4px;color:#33383d;transform:scaleX(0.970);transform-origin:0 0;-webkit-text-stroke:.1px #33383d">(Bohrkerne) und Volumengeometrien</div>
<div class="n" style="left:60.62px;top:242.50px;font-size:6.4px;color:#33383d;transform:scaleX(0.970);transform-origin:0 0;-webkit-text-stroke:.1px #33383d">(Ausdehnung).</div>
<svg style="left:49px;top:261px" width="7.4" height="7" viewBox="0 0 15 14"><rect x="0" y="10" width="3" height="4" fill="#2b3035"/><rect x="4" y="7" width="3" height="7" fill="#2b3035"/><rect x="8" y="3.5" width="3" height="10.5" fill="#2b3035"/><rect x="12" y="0" width="3" height="14" fill="#2b3035"/></svg>
<div class="n" style="left:60.43px;top:260.30px;font-size:6.4px;color:#33383d;transform:scaleX(0.970);transform-origin:0 0;-webkit-text-stroke:.1px #33383d">Ihr 3D-Baugrundmodell können Sie im</div>
<div class="n" style="left:60.49px;top:270.00px;font-size:6.4px;color:#33383d;transform:scaleX(0.970);transform-origin:0 0;-webkit-text-stroke:.1px #33383d">Dashboard abfragen, konfigurieren</div>
<div class="n" style="left:60.60px;top:279.70px;font-size:6.4px;color:#33383d;transform:scaleX(0.970);transform-origin:0 0;-webkit-text-stroke:.1px #33383d">und herunterladen.</div>
<div class="a" style="left:40px;top:304.8px;width:136.5px;height:1px;background:#eceef0"></div>
<svg style="left:48.599999999999994px;top:316.3px" width="8.4" height="8.4" viewBox="0 0 8.4 8.4"><circle cx="4.2" cy="4.2" r="4.1" fill="#212529"/></svg>
<div class="n" style="left:51.26px;top:318.50px;font-size:5px;font-weight:700;color:#fff;transform:scaleX(1.116);transform-origin:0 0;">2</div>
<div class="n" style="left:60.67px;top:317.00px;font-size:8.3px;color:#2b3035;transform:scaleX(0.980);transform-origin:0 0;-webkit-text-stroke:.35px #2b3035">Voreinstellungen</div>
<svg style="left:49.7px;top:333px" width="6.6" height="8" viewBox="0 0 12 15"><path d="M6 0A5.5 5.5 0 0 0 .5 5.5C.5 9.5 6 15 6 15S11.5 9.5 11.5 5.5A5.5 5.5 0 0 0 6 0ZM6 3.3A2.2 2.2 0 1 1 6 7.7A2.2 2.2 0 1 1 6 3.3Z" fill="#2b3035" fill-rule="evenodd"/></svg>
<div class="n" style="left:60.49px;top:332.80px;font-size:6.4px;color:#33383d;transform:scaleX(0.970);transform-origin:0 0;-webkit-text-stroke:.1px #33383d">Die Karten verwenden das</div>
<div class="n" style="left:60.74px;top:342.50px;font-size:6.4px;color:#33383d;transform:scaleX(0.970);transform-origin:0 0;-webkit-text-stroke:.1px #33383d">geodätische Koordinatensystem</div>
<div class="n" style="left:60.49px;top:352.20px;font-size:6.4px;color:#33383d;transform:scaleX(0.970);transform-origin:0 0;-webkit-text-stroke:.1px #33383d">EPSG:4326 (WGS 84), bekannt aus</div>
<div class="n" style="left:60.71px;top:361.90px;font-size:6.4px;color:#33383d;transform:scaleX(0.970);transform-origin:0 0;-webkit-text-stroke:.1px #33383d">OpenStreetMap, zur vereinfachten</div>
<div class="n" style="left:60.74px;top:371.60px;font-size:6.4px;color:#33383d;transform:scaleX(0.970);transform-origin:0 0;-webkit-text-stroke:.1px #33383d">georeferenzierten Darstellung.</div>
<svg style="left:48.8px;top:389.8px" width="8.2" height="8.2" viewBox="0 0 16 16"><circle cx="8" cy="8" r="7.2" fill="#7d8187" stroke="#3f4348" stroke-width="1.4"/><ellipse cx="8" cy="8" rx="3.4" ry="6.6" fill="none" stroke="#c4c8cc" stroke-width="1"/><path d="M8 1.2V14.8" stroke="#c4c8cc" stroke-width="1"/><path d="M1.5 8H14.5" stroke="#9a9ea3" stroke-width=".7"/></svg>
<div class="n" style="left:60.49px;top:389.70px;font-size:6.4px;color:#33383d;transform:scaleX(0.970);transform-origin:0 0;-webkit-text-stroke:.1px #33383d">Die Umrechnung von Längen- und</div>
<div class="n" style="left:60.49px;top:399.40px;font-size:6.4px;color:#33383d;transform:scaleX(0.970);transform-origin:0 0;-webkit-text-stroke:.1px #33383d">Breitengraden in die 3D-Szene (Y-up)</div>
<div class="n" style="left:60.74px;top:409.10px;font-size:6.4px;color:#33383d;transform:scaleX(0.970);transform-origin:0 0;-webkit-text-stroke:.1px #33383d">erfolgt über die Equirectangular</div>
<div class="n" style="left:60.99px;top:418.80px;font-size:6.4px;color:#33383d;transform:scaleX(0.970);transform-origin:0 0;-webkit-text-stroke:.1px #33383d">Approximation, basierend auf einem</div>
<div class="n" style="left:60.59px;top:428.50px;font-size:6.4px;color:#33383d;transform:scaleX(0.970);transform-origin:0 0;-webkit-text-stroke:.1px #33383d">lokal berechneten Referenzpunkt (der</div>
<div class="n" style="left:60.74px;top:438.20px;font-size:6.4px;color:#33383d;transform:scaleX(0.970);transform-origin:0 0;-webkit-text-stroke:.1px #33383d">geografische Mittelpunkt Ihrer</div>
<div class="n" style="left:60.49px;top:447.90px;font-size:6.4px;color:#33383d;transform:scaleX(0.970);transform-origin:0 0;-webkit-text-stroke:.1px #33383d">Bohrungen). Für linienhafte oder</div>
<div class="n" style="left:60.74px;top:457.60px;font-size:6.4px;color:#33383d;transform:scaleX(0.970);transform-origin:0 0;-webkit-text-stroke:.1px #33383d">großflächige Strukturen (z.B. Straßen,</div>
<div class="n" style="left:60.86px;top:467.30px;font-size:6.4px;color:#33383d;transform:scaleX(0.970);transform-origin:0 0;-webkit-text-stroke:.1px #33383d">Trassen) wird die Erdkrümmung</div>
<div class="n" style="left:60.60px;top:477.00px;font-size:6.4px;color:#33383d;transform:scaleX(0.970);transform-origin:0 0;-webkit-text-stroke:.1px #33383d">berücksichtigt. In solchen Fällen</div>
<div class="n" style="left:60.59px;top:486.70px;font-size:6.4px;color:#33383d;transform:scaleX(0.970);transform-origin:0 0;-webkit-text-stroke:.1px #33383d">kommen alternative</div>
<div class="n" style="left:60.49px;top:496.40px;font-size:6.4px;color:#33383d;transform:scaleX(0.970);transform-origin:0 0;-webkit-text-stroke:.1px #33383d">Projektionsverfahren wie ECEF (Earth-</div>
<div class="n" style="left:60.69px;top:506.10px;font-size:6.4px;color:#33383d;transform:scaleX(0.970);transform-origin:0 0;-webkit-text-stroke:.1px #33383d">Centered, Earth-Fixed), LTP (Local</div>
<div class="n" style="left:60.86px;top:515.80px;font-size:6.4px;color:#33383d;transform:scaleX(0.970);transform-origin:0 0;-webkit-text-stroke:.1px #33383d">Tangent Plane) oder UTM (Universal</div>
<div class="n" style="left:60.86px;top:525.50px;font-size:6.4px;color:#33383d;transform:scaleX(0.970);transform-origin:0 0;-webkit-text-stroke:.1px #33383d">Transverse Mercator) zum Einsatz.</div>
<svg style="left:49.8px;top:543.1px" width="6.3" height="7.9" viewBox="0 0 13 16"><path d="M.5 2.5C.5 1.1 3.4 0 6.5 0S12.5 1.1 12.5 2.5V13.5C12.5 14.9 9.6 16 6.5 16S.5 14.9.5 13.5Z" fill="#55595e"/><path d="M.5 2.5C.5 1.1 3.4 0 6.5 0S12.5 1.1 12.5 2.5V5C12.5 6.4 9.6 7 6.5 7S.5 6.4.5 5Z" fill="#1f2327"/><path d="M1.5 9.5Q6.5 10.8 11.5 9.5M1.5 12Q6.5 13.3 11.5 12" stroke="#a0a4a8" stroke-width=".8" fill="none"/><path d="M.5 13.5C.5 14.9 3.4 16 6.5 16S12.5 14.9 12.5 13.5" stroke="#1f2327" stroke-width="1.2" fill="none"/></svg>
<div class="n" style="left:60.91px;top:542.90px;font-size:6.4px;color:#33383d;transform:scaleX(0.970);transform-origin:0 0;-webkit-text-stroke:.1px #33383d">Jeder Bohrzylinder ist standardmäßig</div>
<div class="n" style="left:60.74px;top:552.60px;font-size:6.4px;color:#33383d;transform:scaleX(0.970);transform-origin:0 0;-webkit-text-stroke:.1px #33383d">auf einen Durchmesser von 8 cm</div>
<div class="n" style="left:60.74px;top:562.30px;font-size:6.4px;color:#33383d;transform:scaleX(0.970);transform-origin:0 0;-webkit-text-stroke:.1px #33383d">eingestellt – dies entspricht dem</div>
<svg style="left:239.3px;top:97.6px" width="6.3" height="8" viewBox="0 0 12 15"><ellipse cx="6" cy="2.3" rx="5.7" ry="2.1" fill="#3a3f44"/><path d="M.3 2.8V12.6C.3 13.9 2.9 14.9 6 14.9S11.7 13.9 11.7 12.6V2.8C11.7 4.1 9.1 5 6 5S.3 4.1.3 2.8Z" fill="#5a5f64"/><path d="M.5 6.5Q6 8.2 11.5 6.5M.5 9.6Q6 11.3 11.5 9.6" stroke="#8d9196" stroke-width=".8" fill="none"/></svg>
<div class="n" style="left:249.35px;top:97.80px;font-size:8.4px;color:#383d42;transform:scaleX(0.948);transform-origin:0 0;-webkit-text-stroke:.3px #383d42">Bohrung 1</div>
<div class="n" style="left:290.59px;top:99.60px;font-size:6.6px;color:#aab2ba;transform:scaleX(0.971);transform-origin:0 0;">von 3</div>
<svg style="left:347.3px;top:95.2px" width="12.4" height="12.4" viewBox="0 0 12.4 12.4"><circle cx="6.2" cy="6.2" r="5.8" fill="#fff" stroke="#dfe2e6" stroke-width=".8"/></svg>
<svg style="left:351.0px;top:98.9px" width="5" height="5" viewBox="0 0 5 5"><path d="M.3 .3L4.7 4.7M4.7 .3L.3 4.7" stroke="#7d8389" stroke-width=".8"/></svg>
<div class="a" style="left:231.3px;top:112.9px;width:136px;height:1px;background:#eceef0"></div>
<div class="n" style="left:238.76px;top:122.40px;font-size:6.3px;color:#3a3f44;transform:scaleX(0.990);transform-origin:0 0;-webkit-text-stroke:.1px #3a3f44">Titel</div>
<div class="n" style="left:324.17px;top:122.40px;font-size:6.3px;color:#3a3f44;transform:scaleX(0.841);transform-origin:0 0;-webkit-text-stroke:.1px #3a3f44">EPSG</div>
<div class="a" style="left:238.3px;top:131.4px;width:80.1px;height:15.2px;border:.7px solid #e1e4e8;border-radius:2px;background:#fff"></div>
<div class="n" style="left:242.49px;top:136.50px;font-size:6.5px;color:#8c9298;transform:scaleX(0.964);transform-origin:0 0;">RKS 1</div>
<div class="a" style="left:324.1px;top:131.4px;width:35.9px;height:15.2px;border-radius:2px;background:#e9ecef"></div>
<div class="n" style="left:328.05px;top:136.50px;font-size:6.6px;color:#2b3035;transform:scaleX(1.017);transform-origin:0 0;-webkit-text-stroke:.12px #2b3035">4326</div>
<svg style="left:231.3px;top:153.5px" width="136" height="89" viewBox="0 0 136 89"><defs><filter id="bl231" x="-50%" y="-50%" width="200%" height="200%"><feGaussianBlur stdDeviation=".8"/></filter><clipPath id="mc231"><rect width="136" height="89"/></clipPath></defs><g clip-path="url(#mc231)">
<rect width="136" height="89" fill="#cdebb0"/>
<path d="M0 10.5H24.2V47L28 50L27.3 55L15.6 56.2L0 58.9Z" fill="#eef0d5"/>
<path d="M0 89V87.9L15.6 66.8L31.2 69.9L39 80L42 89Z" fill="#eef0d5"/>
<path d="M105 61.3L136 51.9V62.1L122.3 66L116 64.4Z" fill="#eef0d5"/>
<path d="M14 0H28V4L20 6L18 6.5L14 5Z" fill="#b5d99b"/>
<path d="M0 57.5L15 56.5L12 62.5L0 62.5Z" fill="#b5d99a"/>
<path d="M68.2 30.8L87 28L89.4 46.5L70 48Z" fill="#c2d4a5"/>
<path d="M68.2 24.8L84 19.3L84.5 22.3L68.6 27.8Z" fill="#c4d5a8"/>
<path d="M85 62L90 60L108 80L104 84Z" fill="#c3d1a4"/>
<path d="M82 2.6H85.5V8.1H82Z" fill="#eef0d5"/>
<path d="M112.1 70L114 69L129 79L127 82Z" fill="#eef0d5"/>
<path d="M116.8 68.3L130.1 69.5L127.8 77L116 75.4Z" fill="#f4d5b4"/>
<path d="M131 69.9L136 69V89H128Z" fill="#b8dba0"/>
<path d="M129 0.7H136V5L130 4.5Z" fill="#ddd4cc"/>
<path d="M87 0.7L82.7 19.1" stroke="#bcd2a6" stroke-width=".9"/>
<path d="M55 0L40.6 6.5L23.4 16.3L19.5 20.6L7.7 34L-1 42.5" stroke="#c8c8c4" stroke-width="2.3" fill="none"/>
<path d="M55 0L40.6 6.5L23.4 16.3L19.5 20.6L7.7 34L-1 42.5" stroke="#fff" stroke-width="1.6" fill="none"/>
<path d="M24.2 10.5V47" stroke="#e3c9c0" stroke-width=".4" stroke-dasharray=".8 .8"/>
<path d="M77.3 0.7L81.6 19.9L86.3 29.3L94.9 46.5L98.8 54.2L105 61.3L116 64.4L136 69.9" stroke="#eef0e4" stroke-width="1.3" fill="none"/><path d="M77.3 0.7L81.6 19.9L86.3 29.3L94.9 46.5L98.8 54.2L105 61.3L116 64.4L136 69.9" stroke="#b48f5e" stroke-width="1.3" stroke-dasharray="1.2 1" fill="none"/>
<path d="M0 87.9L15.6 66.8L31.2 69.9" stroke="#b48f5e" stroke-width="1.2" stroke-dasharray="1.4 1" fill="none"/>
<path d="M31.2 69.9L39 80L41 89" stroke="#e8b8c0" stroke-width=".7" stroke-dasharray=".8 .8" fill="none"/>
<path d="M130.1 69.5L125.4 82.4" stroke="#8a8ae0" stroke-width=".7" stroke-dasharray=".8 .8" fill="none"/>
<g stroke="#a5cfe0" stroke-width=".9" fill="none">
<path d="M-1 58.9L15.6 56.2L27.3 55L28.9 50.3L31.2 42.5L41.4 41L50.8 43.4L65.9 48.8L76.1 51.1L80 56.6L89.4 72.3L95.7 83.2L99 89"/>
<path d="M30.5 0.5L40.6 6.5L41.4 41"/><path d="M35.1 18.7V41.3"/><path d="M49.2 19.1V43.4"/><path d="M62.5 21.9V34.5H67.2"/><path d="M66.6 14.4V48"/>
<path d="M80 58.2L65.9 75.4L62 80"/><path d="M85.5 66.8L72.2 83.2L68 89"/><path d="M105 62.9L92.5 72.3L89.4 73.8L82.3 83.2L78 89"/>
<path d="M21 57L16.3 63.6"/>
</g>
<g fill="#b9cf9c" opacity=".8"><circle cx="47" cy="39" r="1.6"/><circle cx="54.5" cy="40.5" r="1.5"/><circle cx="58" cy="38" r="1.2"/></g>
<g fill="#a8d48e"><rect x="48" y="17" width="1.6" height="3.5"/><rect x="58" y="20.5" width="4" height="2.5"/></g>
<text x="39" y="45.5" font-size="3.6" fill="#85aec8" transform="rotate(18 39 45.5)" font-family="Liberation Sans">Beesser Mühlenfließ</text>
<ellipse cx="47.6" cy="51.8" rx="6.5" ry="2.6" fill="rgba(40,60,20,.22)" transform="rotate(-32 47.6 51.8)" filter="url(#bl231)"/>
<path d="M41.1 56.5C38.9 51.8 35.7 48.5 35.7 44.699999999999996A5.4 5.4 0 1 1 46.5 44.699999999999996C46.5 48.5 43.300000000000004 51.8 41.1 56.5Z" fill="#2a7fd0"/>
<path d="M41.1 56.5C38.9 51.8 35.7 48.5 35.7 44.699999999999996A5.4 5.4 0 0 1 41.1 39.3V56.5Z" fill="#3f94dc" opacity=".6"/>
<circle cx="41.1" cy="44.699999999999996" r="2" fill="#fff"/>
</g>
<rect x="5.3" y="5.5" width="13.6" height="27.6" rx="1.5" fill="#fff" stroke="rgba(0,0,0,.22)" stroke-width=".9"/>
<path d="M5.8 19.3H18.4" stroke="#ccc" stroke-width=".6"/>
<path d="M9.6 12.4H14.8M12.2 9.8V15" stroke="#000" stroke-width="1.1"/>
<path d="M9.8 26.3H14.6" stroke="#000" stroke-width="1.1"/>
<rect x="32.4" y="82.4" width="103.6" height="6.6" fill="rgba(255,255,255,.8)"/>
<rect x="33.6" y="83.6" width="4.6" height="1.9" fill="#0057b7"/><rect x="33.6" y="85.5" width="4.6" height="1.9" fill="#ffd700"/>
</svg>
<div class="n" style="left:271.66px;top:236.80px;font-size:5.2px;color:#333;transform:scaleX(1.040);transform-origin:0 0;"><span style="color:#0078a8">Leaflet</span> | © <span style="color:#0078a8">OpenStreetMap</span> contributors</div>
<div class="n" style="left:238.16px;top:252.10px;font-size:6.4px;color:#3a3f44;transform:scaleX(1.029);transform-origin:0 0;-webkit-text-stroke:.1px #3a3f44">Latitude</div>
<div class="n" style="left:280.87px;top:252.10px;font-size:6.4px;color:#3a3f44;transform:scaleX(1.018);transform-origin:0 0;-webkit-text-stroke:.1px #3a3f44">Longitude</div>
<div class="n" style="left:324.06px;top:252.10px;font-size:6.4px;color:#3a3f44;transform:scaleX(1.029);transform-origin:0 0;-webkit-text-stroke:.1px #3a3f44">NHN</div>
<div class="n" style="left:339.76px;top:253.20px;font-size:5px;color:#9aa1a8;transform:scaleX(1.105);transform-origin:0 0;">(m)</div>
<div class="a" style="left:238.3px;top:260.9px;width:38.3px;height:15px;border-radius:2px;background:#e9ecef"></div>
<div class="a" style="left:281.40000000000003px;top:260.9px;width:37.5px;height:15px;border-radius:2px;background:#e9ecef"></div>
<div class="a" style="left:324.4px;top:260.9px;width:35.6px;height:15px;border:.7px solid #e1e4e8;border-radius:2px;background:#fff"></div>
<div class="n" style="left:242.34px;top:265.50px;font-size:6.6px;color:#2b3035;transform:scaleX(0.984);transform-origin:0 0;-webkit-text-stroke:.12px #2b3035">52.03602</div>
<div class="n" style="left:284.80px;top:265.50px;font-size:6.6px;color:#2b3035;transform:scaleX(1.006);transform-origin:0 0;-webkit-text-stroke:.12px #2b3035">14.16906</div>
<div class="n" style="left:327.57px;top:265.50px;font-size:6.6px;color:#2b3035;-webkit-text-stroke:.12px #2b3035">68</div>
<div class="a" style="left:231.3px;top:282.8px;width:136px;height:1px;background:#eceef0"></div>
<div class="a" style="left:231.0px;top:283.5px;width:2.5px;height:54.3px;background:#36c21c"></div>
<svg style="left:238.4px;top:289.8px" width="13.7" height="13.7" viewBox="0 0 13.7 13.7"><circle cx="6.85" cy="6.85" r="6.5" fill="#e9ecef" stroke="#dfe3e7" stroke-width=".6"/></svg>
<div class="n" style="left:241.30px;top:295.30px;font-size:4.6px;font-weight:700;color:#62686d;transform:scaleX(1.086);transform-origin:0 0;">Col</div>
<div class="n" style="left:255.69px;top:295.60px;font-size:7.4px;color:#383d42;transform:scaleX(0.951);transform-origin:0 0;-webkit-text-stroke:.3px #383d42">Schicht 1</div>
<div class="n" style="left:288.29px;top:297.70px;font-size:5.6px;color:#aab2ba;transform:scaleX(1.043);transform-origin:0 0;">von 1</div>
<div class="n" style="left:238.07px;top:314.50px;font-size:6.4px;color:#3a3f44;-webkit-text-stroke:.1px #3a3f44">Name</div>
<div class="n" style="left:323.76px;top:314.50px;font-size:6.4px;color:#3a3f44;transform:scaleX(1.021);transform-origin:0 0;-webkit-text-stroke:.1px #3a3f44">Höhe</div>
<div class="n" style="left:340.67px;top:315.60px;font-size:5px;color:#9aa1a8;transform:scaleX(1.055);transform-origin:0 0;">(cm)</div>
<div class="a" style="left:238.3px;top:323.2px;width:80.5px;height:15.3px;border:.7px solid #e1e4e8;border-radius:2px;background:#fff"></div>
<div class="a" style="left:324.1px;top:323.2px;width:35.6px;height:15.3px;border:.7px solid #e1e4e8;border-radius:2px;background:#fff"></div>
<div class="n" style="left:242.11px;top:328.00px;font-size:6.6px;color:#2b3035;-webkit-text-stroke:.12px #2b3035">Schluff</div>
<div class="n" style="left:327.67px;top:328.00px;font-size:6.6px;color:#2b3035;-webkit-text-stroke:.12px #2b3035">60</div>
<div class="a" style="left:238.3px;top:355.9px;width:122px;height:.7px;background:#f2f3f5"></div>
<svg style="left:292.7px;top:349.5px" width="13.3" height="13.3" viewBox="0 0 13.3 13.3"><circle cx="6.65" cy="6.65" r="6.25" fill="#fff" stroke="#7cc98d" stroke-width=".8"/></svg>
<svg style="left:296.3px;top:353.1px" width="6" height="6" viewBox="0 0 6 6"><path d="M3 0V6M0 3H6" stroke="#2c9f45" stroke-width="1.1"/></svg>
<svg style="left:430.6px;top:97.6px" width="6.3" height="8" viewBox="0 0 12 15"><ellipse cx="6" cy="2.3" rx="5.7" ry="2.1" fill="#3a3f44"/><path d="M.3 2.8V12.6C.3 13.9 2.9 14.9 6 14.9S11.7 13.9 11.7 12.6V2.8C11.7 4.1 9.1 5 6 5S.3 4.1.3 2.8Z" fill="#5a5f64"/><path d="M.5 6.5Q6 8.2 11.5 6.5M.5 9.6Q6 11.3 11.5 9.6" stroke="#8d9196" stroke-width=".8" fill="none"/></svg>
<div class="n" style="left:440.65px;top:97.80px;font-size:8.4px;color:#383d42;transform:scaleX(0.948);transform-origin:0 0;-webkit-text-stroke:.3px #383d42">Bohrung 2</div>
<div class="n" style="left:481.89px;top:99.60px;font-size:6.6px;color:#aab2ba;transform:scaleX(0.971);transform-origin:0 0;">von 3</div>
<svg style="left:538.6px;top:95.2px" width="12.4" height="12.4" viewBox="0 0 12.4 12.4"><circle cx="6.2" cy="6.2" r="5.8" fill="#fff" stroke="#dfe2e6" stroke-width=".8"/></svg>
<svg style="left:542.3000000000001px;top:98.9px" width="5" height="5" viewBox="0 0 5 5"><path d="M.3 .3L4.7 4.7M4.7 .3L.3 4.7" stroke="#7d8389" stroke-width=".8"/></svg>
<div class="a" style="left:422.6px;top:112.9px;width:136px;height:1px;background:#eceef0"></div>
<div class="n" style="left:430.06px;top:122.40px;font-size:6.3px;color:#3a3f44;transform:scaleX(0.990);transform-origin:0 0;-webkit-text-stroke:.1px #3a3f44">Titel</div>
<div class="n" style="left:515.47px;top:122.40px;font-size:6.3px;color:#3a3f44;transform:scaleX(0.841);transform-origin:0 0;-webkit-text-stroke:.1px #3a3f44">EPSG</div>
<div class="a" style="left:429.6px;top:131.4px;width:80.1px;height:15.2px;border:.7px solid #e1e4e8;border-radius:2px;background:#fff"></div>
<div class="n" style="left:433.79px;top:136.50px;font-size:6.5px;color:#8c9298;transform:scaleX(0.965);transform-origin:0 0;">RKS 2</div>
<div class="a" style="left:515.4px;top:131.4px;width:35.9px;height:15.2px;border-radius:2px;background:#e9ecef"></div>
<div class="n" style="left:519.35px;top:136.50px;font-size:6.6px;color:#2b3035;transform:scaleX(1.017);transform-origin:0 0;-webkit-text-stroke:.12px #2b3035">4326</div>
<svg style="left:422.6px;top:153.5px" width="136" height="89" viewBox="0 0 136 89"><defs><filter id="bl422" x="-50%" y="-50%" width="200%" height="200%"><feGaussianBlur stdDeviation=".8"/></filter><clipPath id="mc422"><rect width="136" height="89"/></clipPath></defs><g clip-path="url(#mc422)">
<rect width="136" height="89" fill="#cdebb0"/>
<path d="M0 10.5H24.2V47L28 50L27.3 55L15.6 56.2L0 58.9Z" fill="#eef0d5"/>
<path d="M0 89V87.9L15.6 66.8L31.2 69.9L39 80L42 89Z" fill="#eef0d5"/>
<path d="M105 61.3L136 51.9V62.1L122.3 66L116 64.4Z" fill="#eef0d5"/>
<path d="M14 0H28V4L20 6L18 6.5L14 5Z" fill="#b5d99b"/>
<path d="M0 57.5L15 56.5L12 62.5L0 62.5Z" fill="#b5d99a"/>
<path d="M68.2 30.8L87 28L89.4 46.5L70 48Z" fill="#c2d4a5"/>
<path d="M68.2 24.8L84 19.3L84.5 22.3L68.6 27.8Z" fill="#c4d5a8"/>
<path d="M85 62L90 60L108 80L104 84Z" fill="#c3d1a4"/>
<path d="M82 2.6H85.5V8.1H82Z" fill="#eef0d5"/>
<path d="M112.1 70L114 69L129 79L127 82Z" fill="#eef0d5"/>
<path d="M116.8 68.3L130.1 69.5L127.8 77L116 75.4Z" fill="#f4d5b4"/>
<path d="M131 69.9L136 69V89H128Z" fill="#b8dba0"/>
<path d="M129 0.7H136V5L130 4.5Z" fill="#ddd4cc"/>
<path d="M87 0.7L82.7 19.1" stroke="#bcd2a6" stroke-width=".9"/>
<path d="M55 0L40.6 6.5L23.4 16.3L19.5 20.6L7.7 34L-1 42.5" stroke="#c8c8c4" stroke-width="2.3" fill="none"/>
<path d="M55 0L40.6 6.5L23.4 16.3L19.5 20.6L7.7 34L-1 42.5" stroke="#fff" stroke-width="1.6" fill="none"/>
<path d="M24.2 10.5V47" stroke="#e3c9c0" stroke-width=".4" stroke-dasharray=".8 .8"/>
<path d="M77.3 0.7L81.6 19.9L86.3 29.3L94.9 46.5L98.8 54.2L105 61.3L116 64.4L136 69.9" stroke="#eef0e4" stroke-width="1.3" fill="none"/><path d="M77.3 0.7L81.6 19.9L86.3 29.3L94.9 46.5L98.8 54.2L105 61.3L116 64.4L136 69.9" stroke="#b48f5e" stroke-width="1.3" stroke-dasharray="1.2 1" fill="none"/>
<path d="M0 87.9L15.6 66.8L31.2 69.9" stroke="#b48f5e" stroke-width="1.2" stroke-dasharray="1.4 1" fill="none"/>
<path d="M31.2 69.9L39 80L41 89" stroke="#e8b8c0" stroke-width=".7" stroke-dasharray=".8 .8" fill="none"/>
<path d="M130.1 69.5L125.4 82.4" stroke="#8a8ae0" stroke-width=".7" stroke-dasharray=".8 .8" fill="none"/>
<g stroke="#a5cfe0" stroke-width=".9" fill="none">
<path d="M-1 58.9L15.6 56.2L27.3 55L28.9 50.3L31.2 42.5L41.4 41L50.8 43.4L65.9 48.8L76.1 51.1L80 56.6L89.4 72.3L95.7 83.2L99 89"/>
<path d="M30.5 0.5L40.6 6.5L41.4 41"/><path d="M35.1 18.7V41.3"/><path d="M49.2 19.1V43.4"/><path d="M62.5 21.9V34.5H67.2"/><path d="M66.6 14.4V48"/>
<path d="M80 58.2L65.9 75.4L62 80"/><path d="M85.5 66.8L72.2 83.2L68 89"/><path d="M105 62.9L92.5 72.3L89.4 73.8L82.3 83.2L78 89"/>
<path d="M21 57L16.3 63.6"/>
</g>
<g fill="#b9cf9c" opacity=".8"><circle cx="47" cy="39" r="1.6"/><circle cx="54.5" cy="40.5" r="1.5"/><circle cx="58" cy="38" r="1.2"/></g>
<g fill="#a8d48e"><rect x="48" y="17" width="1.6" height="3.5"/><rect x="58" y="20.5" width="4" height="2.5"/></g>
<text x="39" y="45.5" font-size="3.6" fill="#85aec8" transform="rotate(18 39 45.5)" font-family="Liberation Sans">Beesser Mühlenfließ</text>
<ellipse cx="76.1" cy="56.5" rx="6.5" ry="2.6" fill="rgba(40,60,20,.22)" transform="rotate(-32 76.1 56.5)" filter="url(#bl422)"/>
<path d="M69.6 61.2C67.39999999999999 56.5 64.19999999999999 53.2 64.19999999999999 49.4A5.4 5.4 0 1 1 75.0 49.4C75.0 53.2 71.8 56.5 69.6 61.2Z" fill="#2a7fd0"/>
<path d="M69.6 61.2C67.39999999999999 56.5 64.19999999999999 53.2 64.19999999999999 49.4A5.4 5.4 0 0 1 69.6 44V61.2Z" fill="#3f94dc" opacity=".6"/>
<circle cx="69.6" cy="49.4" r="2" fill="#fff"/>
</g>
<rect x="5.3" y="5.5" width="13.6" height="27.6" rx="1.5" fill="#fff" stroke="rgba(0,0,0,.22)" stroke-width=".9"/>
<path d="M5.8 19.3H18.4" stroke="#ccc" stroke-width=".6"/>
<path d="M9.6 12.4H14.8M12.2 9.8V15" stroke="#000" stroke-width="1.1"/>
<path d="M9.8 26.3H14.6" stroke="#000" stroke-width="1.1"/>
<rect x="32.4" y="82.4" width="103.6" height="6.6" fill="rgba(255,255,255,.8)"/>
<rect x="33.6" y="83.6" width="4.6" height="1.9" fill="#0057b7"/><rect x="33.6" y="85.5" width="4.6" height="1.9" fill="#ffd700"/>
</svg>
<div class="n" style="left:462.96px;top:236.80px;font-size:5.2px;color:#333;transform:scaleX(1.040);transform-origin:0 0;"><span style="color:#0078a8">Leaflet</span> | © <span style="color:#0078a8">OpenStreetMap</span> contributors</div>
<div class="n" style="left:429.46px;top:252.10px;font-size:6.4px;color:#3a3f44;transform:scaleX(1.029);transform-origin:0 0;-webkit-text-stroke:.1px #3a3f44">Latitude</div>
<div class="n" style="left:472.17px;top:252.10px;font-size:6.4px;color:#3a3f44;transform:scaleX(1.018);transform-origin:0 0;-webkit-text-stroke:.1px #3a3f44">Longitude</div>
<div class="n" style="left:515.36px;top:252.10px;font-size:6.4px;color:#3a3f44;transform:scaleX(1.029);transform-origin:0 0;-webkit-text-stroke:.1px #3a3f44">NHN</div>
<div class="n" style="left:531.06px;top:253.20px;font-size:5px;color:#9aa1a8;transform:scaleX(1.105);transform-origin:0 0;">(m)</div>
<div class="a" style="left:429.6px;top:260.9px;width:38.3px;height:15px;border-radius:2px;background:#e9ecef"></div>
<div class="a" style="left:472.70000000000005px;top:260.9px;width:37.5px;height:15px;border-radius:2px;background:#e9ecef"></div>
<div class="a" style="left:515.7px;top:260.9px;width:35.6px;height:15px;border:.7px solid #e1e4e8;border-radius:2px;background:#fff"></div>
<div class="n" style="left:433.64px;top:265.50px;font-size:6.6px;color:#2b3035;transform:scaleX(0.982);transform-origin:0 0;-webkit-text-stroke:.12px #2b3035">52.03578</div>
<div class="n" style="left:476.10px;top:265.50px;font-size:6.6px;color:#2b3035;transform:scaleX(1.005);transform-origin:0 0;-webkit-text-stroke:.12px #2b3035">14.17185</div>
<div class="n" style="left:518.87px;top:265.50px;font-size:6.6px;color:#2b3035;-webkit-text-stroke:.12px #2b3035">67</div>
<div class="a" style="left:422.6px;top:282.8px;width:136px;height:1px;background:#eceef0"></div>
<div class="a" style="left:422.3px;top:283.5px;width:2.5px;height:54.3px;background:#36c21c"></div>
<svg style="left:429.70000000000005px;top:289.8px" width="13.7" height="13.7" viewBox="0 0 13.7 13.7"><circle cx="6.85" cy="6.85" r="6.5" fill="#e9ecef" stroke="#dfe3e7" stroke-width=".6"/></svg>
<div class="n" style="left:432.60px;top:295.30px;font-size:4.6px;font-weight:700;color:#62686d;transform:scaleX(1.086);transform-origin:0 0;">Col</div>
<div class="n" style="left:446.99px;top:295.60px;font-size:7.4px;color:#383d42;transform:scaleX(0.951);transform-origin:0 0;-webkit-text-stroke:.3px #383d42">Schicht 1</div>
<div class="n" style="left:479.59px;top:297.70px;font-size:5.6px;color:#aab2ba;transform:scaleX(1.044);transform-origin:0 0;">von 2</div>
<svg style="left:538.6px;top:292.9px" width="12.6" height="12.6" viewBox="0 0 12.6 12.6"><circle cx="6.3" cy="6.3" r="5.9" fill="#fff" stroke="#dfe2e6" stroke-width=".8"/></svg>
<svg style="left:542.4px;top:296.7px" width="5" height="5" viewBox="0 0 5 5"><path d="M.3 .3L4.7 4.7M4.7 .3L.3 4.7" stroke="#7d8389" stroke-width=".8"/></svg>
<div class="n" style="left:429.37px;top:314.50px;font-size:6.4px;color:#3a3f44;-webkit-text-stroke:.1px #3a3f44">Name</div>
<div class="n" style="left:515.06px;top:314.50px;font-size:6.4px;color:#3a3f44;transform:scaleX(1.021);transform-origin:0 0;-webkit-text-stroke:.1px #3a3f44">Höhe</div>
<div class="n" style="left:531.97px;top:315.60px;font-size:5px;color:#9aa1a8;transform:scaleX(1.055);transform-origin:0 0;">(cm)</div>
<div class="a" style="left:429.6px;top:323.2px;width:80.5px;height:15.3px;border:.7px solid #e1e4e8;border-radius:2px;background:#fff"></div>
<div class="a" style="left:515.4px;top:323.2px;width:35.6px;height:15.3px;border:.7px solid #e1e4e8;border-radius:2px;background:#fff"></div>
<div class="n" style="left:433.41px;top:328.00px;font-size:6.6px;color:#2b3035;-webkit-text-stroke:.12px #2b3035">Schluff</div>
<div class="n" style="left:518.97px;top:328.00px;font-size:6.6px;color:#2b3035;-webkit-text-stroke:.12px #2b3035">24</div>
<div class="a" style="left:429.6px;top:355.9px;width:122px;height:.7px;background:#f2f3f5"></div>
<svg style="left:484.0px;top:349.5px" width="13.3" height="13.3" viewBox="0 0 13.3 13.3"><circle cx="6.65" cy="6.65" r="6.25" fill="#fff" stroke="#7cc98d" stroke-width=".8"/></svg>
<svg style="left:487.6px;top:353.1px" width="6" height="6" viewBox="0 0 6 6"><path d="M3 0V6M0 3H6" stroke="#2c9f45" stroke-width="1.1"/></svg>
<div class="a" style="left:422.3px;top:367.5px;width:2.5px;height:54.3px;background:#92602a"></div>
<svg style="left:429.70000000000005px;top:373.8px" width="13.7" height="13.7" viewBox="0 0 13.7 13.7"><circle cx="6.85" cy="6.85" r="6.5" fill="#e9ecef" stroke="#dfe3e7" stroke-width=".6"/></svg>
<div class="n" style="left:432.60px;top:379.30px;font-size:4.6px;font-weight:700;color:#62686d;transform:scaleX(1.086);transform-origin:0 0;">Col</div>
<div class="n" style="left:446.99px;top:379.60px;font-size:7.4px;color:#383d42;transform:scaleX(0.951);transform-origin:0 0;-webkit-text-stroke:.3px #383d42">Schicht 2</div>
<div class="n" style="left:479.59px;top:381.70px;font-size:5.6px;color:#aab2ba;transform:scaleX(1.044);transform-origin:0 0;">von 2</div>
<svg style="left:538.6px;top:376.9px" width="12.6" height="12.6" viewBox="0 0 12.6 12.6"><circle cx="6.3" cy="6.3" r="5.9" fill="#fff" stroke="#dfe2e6" stroke-width=".8"/></svg>
<svg style="left:542.4px;top:380.7px" width="5" height="5" viewBox="0 0 5 5"><path d="M.3 .3L4.7 4.7M4.7 .3L.3 4.7" stroke="#7d8389" stroke-width=".8"/></svg>
<div class="n" style="left:429.37px;top:398.50px;font-size:6.4px;color:#3a3f44;-webkit-text-stroke:.1px #3a3f44">Name</div>
<div class="n" style="left:515.06px;top:398.50px;font-size:6.4px;color:#3a3f44;transform:scaleX(1.021);transform-origin:0 0;-webkit-text-stroke:.1px #3a3f44">Höhe</div>
<div class="n" style="left:531.97px;top:399.60px;font-size:5px;color:#9aa1a8;transform:scaleX(1.055);transform-origin:0 0;">(cm)</div>
<div class="a" style="left:429.6px;top:407.2px;width:80.5px;height:15.3px;border:.7px solid #e1e4e8;border-radius:2px;background:#fff"></div>
<div class="a" style="left:515.4px;top:407.2px;width:35.6px;height:15.3px;border:.7px solid #e1e4e8;border-radius:2px;background:#fff"></div>
<div class="n" style="left:433.16px;top:412.00px;font-size:6.6px;color:#2b3035;-webkit-text-stroke:.12px #2b3035">Mutterboden</div>
<div class="n" style="left:519.05px;top:412.00px;font-size:6.6px;color:#2b3035;-webkit-text-stroke:.12px #2b3035">35</div>
<div class="a" style="left:429.6px;top:439.9px;width:122px;height:.7px;background:#f2f3f5"></div>
<svg style="left:484.0px;top:433.5px" width="13.3" height="13.3" viewBox="0 0 13.3 13.3"><circle cx="6.65" cy="6.65" r="6.25" fill="#fff" stroke="#7cc98d" stroke-width=".8"/></svg>
<svg style="left:487.6px;top:437.1px" width="6" height="6" viewBox="0 0 6 6"><path d="M3 0V6M0 3H6" stroke="#2c9f45" stroke-width="1.1"/></svg>
<svg style="left:621.9px;top:97.6px" width="6.3" height="8" viewBox="0 0 12 15"><ellipse cx="6" cy="2.3" rx="5.7" ry="2.1" fill="#3a3f44"/><path d="M.3 2.8V12.6C.3 13.9 2.9 14.9 6 14.9S11.7 13.9 11.7 12.6V2.8C11.7 4.1 9.1 5 6 5S.3 4.1.3 2.8Z" fill="#5a5f64"/><path d="M.5 6.5Q6 8.2 11.5 6.5M.5 9.6Q6 11.3 11.5 9.6" stroke="#8d9196" stroke-width=".8" fill="none"/></svg>
<div class="n" style="left:631.95px;top:97.80px;font-size:8.4px;color:#383d42;transform:scaleX(0.947);transform-origin:0 0;-webkit-text-stroke:.3px #383d42">Bohrung 3</div>
<div class="n" style="left:673.19px;top:99.60px;font-size:6.6px;color:#aab2ba;transform:scaleX(0.971);transform-origin:0 0;">von 3</div>
<svg style="left:729.9px;top:95.2px" width="12.4" height="12.4" viewBox="0 0 12.4 12.4"><circle cx="6.2" cy="6.2" r="5.8" fill="#fff" stroke="#dfe2e6" stroke-width=".8"/></svg>
<svg style="left:733.6px;top:98.9px" width="5" height="5" viewBox="0 0 5 5"><path d="M.3 .3L4.7 4.7M4.7 .3L.3 4.7" stroke="#7d8389" stroke-width=".8"/></svg>
<div class="a" style="left:613.9px;top:112.9px;width:136px;height:1px;background:#eceef0"></div>
<div class="n" style="left:621.36px;top:122.40px;font-size:6.3px;color:#3a3f44;transform:scaleX(0.990);transform-origin:0 0;-webkit-text-stroke:.1px #3a3f44">Titel</div>
<div class="n" style="left:706.77px;top:122.40px;font-size:6.3px;color:#3a3f44;transform:scaleX(0.841);transform-origin:0 0;-webkit-text-stroke:.1px #3a3f44">EPSG</div>
<div class="a" style="left:620.9px;top:131.4px;width:80.1px;height:15.2px;border:.7px solid #e1e4e8;border-radius:2px;background:#fff"></div>
<div class="n" style="left:625.09px;top:136.50px;font-size:6.5px;color:#8c9298;transform:scaleX(0.962);transform-origin:0 0;">RKS 3</div>
<div class="a" style="left:706.6999999999999px;top:131.4px;width:35.9px;height:15.2px;border-radius:2px;background:#e9ecef"></div>
<div class="n" style="left:710.65px;top:136.50px;font-size:6.6px;color:#2b3035;transform:scaleX(1.017);transform-origin:0 0;-webkit-text-stroke:.12px #2b3035">4326</div>
<svg style="left:613.9px;top:153.5px" width="136" height="89" viewBox="0 0 136 89"><defs><filter id="bl613" x="-50%" y="-50%" width="200%" height="200%"><feGaussianBlur stdDeviation=".8"/></filter><clipPath id="mc613"><rect width="136" height="89"/></clipPath></defs><g clip-path="url(#mc613)">
<rect width="136" height="89" fill="#cdebb0"/>
<path d="M0 10.5H24.2V47L28 50L27.3 55L15.6 56.2L0 58.9Z" fill="#eef0d5"/>
<path d="M0 89V87.9L15.6 66.8L31.2 69.9L39 80L42 89Z" fill="#eef0d5"/>
<path d="M105 61.3L136 51.9V62.1L122.3 66L116 64.4Z" fill="#eef0d5"/>
<path d="M14 0H28V4L20 6L18 6.5L14 5Z" fill="#b5d99b"/>
<path d="M0 57.5L15 56.5L12 62.5L0 62.5Z" fill="#b5d99a"/>
<path d="M68.2 30.8L87 28L89.4 46.5L70 48Z" fill="#c2d4a5"/>
<path d="M68.2 24.8L84 19.3L84.5 22.3L68.6 27.8Z" fill="#c4d5a8"/>
<path d="M85 62L90 60L108 80L104 84Z" fill="#c3d1a4"/>
<path d="M82 2.6H85.5V8.1H82Z" fill="#eef0d5"/>
<path d="M112.1 70L114 69L129 79L127 82Z" fill="#eef0d5"/>
<path d="M116.8 68.3L130.1 69.5L127.8 77L116 75.4Z" fill="#f4d5b4"/>
<path d="M131 69.9L136 69V89H128Z" fill="#b8dba0"/>
<path d="M129 0.7H136V5L130 4.5Z" fill="#ddd4cc"/>
<path d="M87 0.7L82.7 19.1" stroke="#bcd2a6" stroke-width=".9"/>
<path d="M55 0L40.6 6.5L23.4 16.3L19.5 20.6L7.7 34L-1 42.5" stroke="#c8c8c4" stroke-width="2.3" fill="none"/>
<path d="M55 0L40.6 6.5L23.4 16.3L19.5 20.6L7.7 34L-1 42.5" stroke="#fff" stroke-width="1.6" fill="none"/>
<path d="M24.2 10.5V47" stroke="#e3c9c0" stroke-width=".4" stroke-dasharray=".8 .8"/>
<path d="M77.3 0.7L81.6 19.9L86.3 29.3L94.9 46.5L98.8 54.2L105 61.3L116 64.4L136 69.9" stroke="#eef0e4" stroke-width="1.3" fill="none"/><path d="M77.3 0.7L81.6 19.9L86.3 29.3L94.9 46.5L98.8 54.2L105 61.3L116 64.4L136 69.9" stroke="#b48f5e" stroke-width="1.3" stroke-dasharray="1.2 1" fill="none"/>
<path d="M0 87.9L15.6 66.8L31.2 69.9" stroke="#b48f5e" stroke-width="1.2" stroke-dasharray="1.4 1" fill="none"/>
<path d="M31.2 69.9L39 80L41 89" stroke="#e8b8c0" stroke-width=".7" stroke-dasharray=".8 .8" fill="none"/>
<path d="M130.1 69.5L125.4 82.4" stroke="#8a8ae0" stroke-width=".7" stroke-dasharray=".8 .8" fill="none"/>
<g stroke="#a5cfe0" stroke-width=".9" fill="none">
<path d="M-1 58.9L15.6 56.2L27.3 55L28.9 50.3L31.2 42.5L41.4 41L50.8 43.4L65.9 48.8L76.1 51.1L80 56.6L89.4 72.3L95.7 83.2L99 89"/>
<path d="M30.5 0.5L40.6 6.5L41.4 41"/><path d="M35.1 18.7V41.3"/><path d="M49.2 19.1V43.4"/><path d="M62.5 21.9V34.5H67.2"/><path d="M66.6 14.4V48"/>
<path d="M80 58.2L65.9 75.4L62 80"/><path d="M85.5 66.8L72.2 83.2L68 89"/><path d="M105 62.9L92.5 72.3L89.4 73.8L82.3 83.2L78 89"/>
<path d="M21 57L16.3 63.6"/>
</g>
<g fill="#b9cf9c" opacity=".8"><circle cx="47" cy="39" r="1.6"/><circle cx="54.5" cy="40.5" r="1.5"/><circle cx="58" cy="38" r="1.2"/></g>
<g fill="#a8d48e"><rect x="48" y="17" width="1.6" height="3.5"/><rect x="58" y="20.5" width="4" height="2.5"/></g>
<text x="39" y="45.5" font-size="3.6" fill="#85aec8" transform="rotate(18 39 45.5)" font-family="Liberation Sans">Beesser Mühlenfließ</text>
<ellipse cx="58.0" cy="63.6" rx="6.5" ry="2.6" fill="rgba(40,60,20,.22)" transform="rotate(-32 58.0 63.6)" filter="url(#bl613)"/>
<path d="M51.5 68.3C49.3 63.6 46.1 60.3 46.1 56.5A5.4 5.4 0 1 1 56.9 56.5C56.9 60.3 53.7 63.6 51.5 68.3Z" fill="#2a7fd0"/>
<path d="M51.5 68.3C49.3 63.6 46.1 60.3 46.1 56.5A5.4 5.4 0 0 1 51.5 51.1V68.3Z" fill="#3f94dc" opacity=".6"/>
<circle cx="51.5" cy="56.5" r="2" fill="#fff"/>
</g>
<rect x="5.3" y="5.5" width="13.6" height="27.6" rx="1.5" fill="#fff" stroke="rgba(0,0,0,.22)" stroke-width=".9"/>
<path d="M5.8 19.3H18.4" stroke="#ccc" stroke-width=".6"/>
<path d="M9.6 12.4H14.8M12.2 9.8V15" stroke="#000" stroke-width="1.1"/>
<path d="M9.8 26.3H14.6" stroke="#000" stroke-width="1.1"/>
<rect x="32.4" y="82.4" width="103.6" height="6.6" fill="rgba(255,255,255,.8)"/>
<rect x="33.6" y="83.6" width="4.6" height="1.9" fill="#0057b7"/><rect x="33.6" y="85.5" width="4.6" height="1.9" fill="#ffd700"/>
</svg>
<div class="n" style="left:654.26px;top:236.80px;font-size:5.2px;color:#333;transform:scaleX(1.040);transform-origin:0 0;"><span style="color:#0078a8">Leaflet</span> | © <span style="color:#0078a8">OpenStreetMap</span> contributors</div>
<div class="n" style="left:620.76px;top:252.10px;font-size:6.4px;color:#3a3f44;transform:scaleX(1.029);transform-origin:0 0;-webkit-text-stroke:.1px #3a3f44">Latitude</div>
<div class="n" style="left:663.47px;top:252.10px;font-size:6.4px;color:#3a3f44;transform:scaleX(1.018);transform-origin:0 0;-webkit-text-stroke:.1px #3a3f44">Longitude</div>
<div class="n" style="left:706.66px;top:252.10px;font-size:6.4px;color:#3a3f44;transform:scaleX(1.029);transform-origin:0 0;-webkit-text-stroke:.1px #3a3f44">NHN</div>
<div class="n" style="left:722.36px;top:253.20px;font-size:5px;color:#9aa1a8;transform:scaleX(1.105);transform-origin:0 0;">(m)</div>
<div class="a" style="left:620.9px;top:260.9px;width:38.3px;height:15px;border-radius:2px;background:#e9ecef"></div>
<div class="a" style="left:664.0px;top:260.9px;width:37.5px;height:15px;border-radius:2px;background:#e9ecef"></div>
<div class="a" style="left:707.0px;top:260.9px;width:35.6px;height:15px;border:.7px solid #e1e4e8;border-radius:2px;background:#fff"></div>
<div class="n" style="left:624.94px;top:265.50px;font-size:6.6px;color:#2b3035;transform:scaleX(0.982);transform-origin:0 0;-webkit-text-stroke:.12px #2b3035">52.03536</div>
<div class="n" style="left:667.39px;top:265.50px;font-size:6.6px;color:#2b3035;transform:scaleX(1.007);transform-origin:0 0;-webkit-text-stroke:.12px #2b3035">14.17009</div>
<div class="n" style="left:710.17px;top:265.50px;font-size:6.6px;color:#2b3035;-webkit-text-stroke:.12px #2b3035">60</div>
<div class="a" style="left:613.9px;top:282.8px;width:136px;height:1px;background:#eceef0"></div>
<div class="a" style="left:613.6px;top:283.5px;width:2.5px;height:54.3px;background:#dadf10"></div>
<svg style="left:621.0px;top:289.8px" width="13.7" height="13.7" viewBox="0 0 13.7 13.7"><circle cx="6.85" cy="6.85" r="6.5" fill="#e9ecef" stroke="#dfe3e7" stroke-width=".6"/></svg>
<div class="n" style="left:623.90px;top:295.30px;font-size:4.6px;font-weight:700;color:#62686d;transform:scaleX(1.086);transform-origin:0 0;">Col</div>
<div class="n" style="left:638.29px;top:295.60px;font-size:7.4px;color:#383d42;transform:scaleX(0.951);transform-origin:0 0;-webkit-text-stroke:.3px #383d42">Schicht 1</div>
<div class="n" style="left:670.89px;top:297.70px;font-size:5.6px;color:#aab2ba;transform:scaleX(1.041);transform-origin:0 0;">von 3</div>
<svg style="left:729.9px;top:292.9px" width="12.6" height="12.6" viewBox="0 0 12.6 12.6"><circle cx="6.3" cy="6.3" r="5.9" fill="#fff" stroke="#dfe2e6" stroke-width=".8"/></svg>
<svg style="left:733.6999999999999px;top:296.7px" width="5" height="5" viewBox="0 0 5 5"><path d="M.3 .3L4.7 4.7M4.7 .3L.3 4.7" stroke="#7d8389" stroke-width=".8"/></svg>
<div class="n" style="left:620.67px;top:314.50px;font-size:6.4px;color:#3a3f44;-webkit-text-stroke:.1px #3a3f44">Name</div>
<div class="n" style="left:706.36px;top:314.50px;font-size:6.4px;color:#3a3f44;transform:scaleX(1.021);transform-origin:0 0;-webkit-text-stroke:.1px #3a3f44">Höhe</div>
<div class="n" style="left:723.27px;top:315.60px;font-size:5px;color:#9aa1a8;transform:scaleX(1.055);transform-origin:0 0;">(cm)</div>
<div class="a" style="left:620.9px;top:323.2px;width:80.5px;height:15.3px;border:.7px solid #e1e4e8;border-radius:2px;background:#fff"></div>
<div class="a" style="left:706.6999999999999px;top:323.2px;width:35.6px;height:15.3px;border:.7px solid #e1e4e8;border-radius:2px;background:#fff"></div>
<div class="n" style="left:624.71px;top:328.00px;font-size:6.6px;color:#2b3035;-webkit-text-stroke:.12px #2b3035">Sand</div>
<div class="n" style="left:710.34px;top:328.00px;font-size:6.6px;color:#2b3035;-webkit-text-stroke:.12px #2b3035">50</div>
<div class="a" style="left:620.9px;top:355.9px;width:122px;height:.7px;background:#f2f3f5"></div>
<svg style="left:675.3px;top:349.5px" width="13.3" height="13.3" viewBox="0 0 13.3 13.3"><circle cx="6.65" cy="6.65" r="6.25" fill="#fff" stroke="#7cc98d" stroke-width=".8"/></svg>
<svg style="left:678.9px;top:353.1px" width="6" height="6" viewBox="0 0 6 6"><path d="M3 0V6M0 3H6" stroke="#2c9f45" stroke-width="1.1"/></svg>
<div class="a" style="left:613.6px;top:367.5px;width:2.5px;height:54.3px;background:#92602a"></div>
<svg style="left:621.0px;top:373.8px" width="13.7" height="13.7" viewBox="0 0 13.7 13.7"><circle cx="6.85" cy="6.85" r="6.5" fill="#e9ecef" stroke="#dfe3e7" stroke-width=".6"/></svg>
<div class="n" style="left:623.90px;top:379.30px;font-size:4.6px;font-weight:700;color:#62686d;transform:scaleX(1.086);transform-origin:0 0;">Col</div>
<div class="n" style="left:638.29px;top:379.60px;font-size:7.4px;color:#383d42;transform:scaleX(0.951);transform-origin:0 0;-webkit-text-stroke:.3px #383d42">Schicht 2</div>
<div class="n" style="left:670.89px;top:381.70px;font-size:5.6px;color:#aab2ba;transform:scaleX(1.041);transform-origin:0 0;">von 3</div>
<svg style="left:729.9px;top:376.9px" width="12.6" height="12.6" viewBox="0 0 12.6 12.6"><circle cx="6.3" cy="6.3" r="5.9" fill="#fff" stroke="#dfe2e6" stroke-width=".8"/></svg>
<svg style="left:733.6999999999999px;top:380.7px" width="5" height="5" viewBox="0 0 5 5"><path d="M.3 .3L4.7 4.7M4.7 .3L.3 4.7" stroke="#7d8389" stroke-width=".8"/></svg>
<div class="n" style="left:620.67px;top:398.50px;font-size:6.4px;color:#3a3f44;-webkit-text-stroke:.1px #3a3f44">Name</div>
<div class="n" style="left:706.36px;top:398.50px;font-size:6.4px;color:#3a3f44;transform:scaleX(1.021);transform-origin:0 0;-webkit-text-stroke:.1px #3a3f44">Höhe</div>
<div class="n" style="left:723.27px;top:399.60px;font-size:5px;color:#9aa1a8;transform:scaleX(1.055);transform-origin:0 0;">(cm)</div>
<div class="a" style="left:620.9px;top:407.2px;width:80.5px;height:15.3px;border:.7px solid #e1e4e8;border-radius:2px;background:#fff"></div>
<div class="a" style="left:706.6999999999999px;top:407.2px;width:35.6px;height:15.3px;border:.7px solid #e1e4e8;border-radius:2px;background:#fff"></div>
<div class="n" style="left:624.46px;top:412.00px;font-size:6.6px;color:#2b3035;-webkit-text-stroke:.12px #2b3035">Mutterboden</div>
<div class="n" style="left:710.34px;top:412.00px;font-size:6.6px;color:#2b3035;-webkit-text-stroke:.12px #2b3035">50</div>
<div class="a" style="left:620.9px;top:439.9px;width:122px;height:.7px;background:#f2f3f5"></div>
<svg style="left:675.3px;top:433.5px" width="13.3" height="13.3" viewBox="0 0 13.3 13.3"><circle cx="6.65" cy="6.65" r="6.25" fill="#fff" stroke="#7cc98d" stroke-width=".8"/></svg>
<svg style="left:678.9px;top:437.1px" width="6" height="6" viewBox="0 0 6 6"><path d="M3 0V6M0 3H6" stroke="#2c9f45" stroke-width="1.1"/></svg>
<div class="a" style="left:613.6px;top:451.5px;width:2.5px;height:54.3px;background:#f47a18"></div>
<svg style="left:621.0px;top:457.8px" width="13.7" height="13.7" viewBox="0 0 13.7 13.7"><circle cx="6.85" cy="6.85" r="6.5" fill="#e9ecef" stroke="#dfe3e7" stroke-width=".6"/></svg>
<div class="n" style="left:623.90px;top:463.30px;font-size:4.6px;font-weight:700;color:#62686d;transform:scaleX(1.086);transform-origin:0 0;">Col</div>
<div class="n" style="left:638.29px;top:463.60px;font-size:7.4px;color:#383d42;transform:scaleX(0.949);transform-origin:0 0;-webkit-text-stroke:.3px #383d42">Schicht 3</div>
<div class="n" style="left:670.89px;top:465.70px;font-size:5.6px;color:#aab2ba;transform:scaleX(1.041);transform-origin:0 0;">von 3</div>
<svg style="left:729.9px;top:460.9px" width="12.6" height="12.6" viewBox="0 0 12.6 12.6"><circle cx="6.3" cy="6.3" r="5.9" fill="#fff" stroke="#dfe2e6" stroke-width=".8"/></svg>
<svg style="left:733.6999999999999px;top:464.7px" width="5" height="5" viewBox="0 0 5 5"><path d="M.3 .3L4.7 4.7M4.7 .3L.3 4.7" stroke="#7d8389" stroke-width=".8"/></svg>
<div class="n" style="left:620.67px;top:482.50px;font-size:6.4px;color:#3a3f44;-webkit-text-stroke:.1px #3a3f44">Name</div>
<div class="n" style="left:706.36px;top:482.50px;font-size:6.4px;color:#3a3f44;transform:scaleX(1.021);transform-origin:0 0;-webkit-text-stroke:.1px #3a3f44">Höhe</div>
<div class="n" style="left:723.27px;top:483.60px;font-size:5px;color:#9aa1a8;transform:scaleX(1.055);transform-origin:0 0;">(cm)</div>
<div class="a" style="left:620.9px;top:491.2px;width:80.5px;height:15.3px;border:.7px solid #e1e4e8;border-radius:2px;background:#fff"></div>
<div class="a" style="left:706.6999999999999px;top:491.2px;width:35.6px;height:15.3px;border:.7px solid #e1e4e8;border-radius:2px;background:#fff"></div>
<div class="n" style="left:624.46px;top:496.00px;font-size:6.6px;color:#2b3035;-webkit-text-stroke:.12px #2b3035">Kies</div>
<div class="n" style="left:710.34px;top:496.00px;font-size:6.6px;color:#2b3035;-webkit-text-stroke:.12px #2b3035">56</div>
<div class="a" style="left:620.9px;top:523.9px;width:122px;height:.7px;background:#f2f3f5"></div>
<svg style="left:675.3px;top:517.5px" width="13.3" height="13.3" viewBox="0 0 13.3 13.3"><circle cx="6.65" cy="6.65" r="6.25" fill="#fff" stroke="#7cc98d" stroke-width=".8"/></svg>
<svg style="left:678.9px;top:521.1px" width="6" height="6" viewBox="0 0 6 6"><path d="M3 0V6M0 3H6" stroke="#2c9f45" stroke-width="1.1"/></svg>
<svg style="left:812.9px;top:97.3px" width="7.3" height="7.2" viewBox="0 0 15 15"><rect x="0" y="10.5" width="3.2" height="4.5" fill="#212529"/><rect x="4" y="7" width="3.2" height="8" fill="#212529"/><rect x="8" y="3.5" width="3.2" height="11.5" fill="#212529"/><rect x="12" y="0" width="3" height="15" fill="#212529"/></svg>
<div class="n" style="left:823.65px;top:97.70px;font-size:8.2px;color:#212529;transform:scaleX(0.969);transform-origin:0 0;-webkit-text-stroke:.15px #212529">Dashboard</div>
<svg style="left:926.4px;top:97.1px" width="8.2" height="7.6" viewBox="0 0 8.2 7.6"><path d="M.4 2.6V.4H2.8M5.4 .4H7.8V2.6M7.8 5V7.2H5.4M2.8 7.2H.4V5" fill="none" stroke="#3a3f44" stroke-width=".8"/></svg>
<div class="a" style="left:805.3px;top:110.8px;width:136px;height:1px;background:#eceef0"></div>
<div class="n" style="left:812.36px;top:120.60px;font-size:6.4px;color:#3a3f44;transform:scaleX(1.030);transform-origin:0 0;-webkit-text-stroke:.15px #3a3f44">Projekttitel</div>
<div class="n" style="left:898.35px;top:120.60px;font-size:6.4px;color:#3a3f44;transform:scaleX(0.865);transform-origin:0 0;-webkit-text-stroke:.15px #3a3f44">PROJ</div>
<div class="a" style="left:812.4px;top:129.3px;width:80.2px;height:15.3px;border:.7px solid #dee2e6;border-radius:2px;background:#fff"></div>
<div class="n" style="left:816.22px;top:134.30px;font-size:6.6px;color:#8c9298;">optional</div>
<div class="a" style="left:898.3px;top:129.3px;width:35.6px;height:15.3px;border-radius:2px;background:#e9ecef"></div>
<div class="n" style="left:901.87px;top:134.30px;font-size:6.6px;color:#2b3035;transform:scaleX(0.981);transform-origin:0 0;">EQUIR.</div>
<svg style="left:805.3px;top:151.7px" width="136" height="89.3" viewBox="805.3 151.7 136 89.3">
<defs><clipPath id="ct"><polygon points="842.3,188.5 877.3,173.3 898.1,187.4 884.3,192.7"/></clipPath><clipPath id="co"><polygon points="831.4,193 842.3,188.7 884.3,192.7 857.7,226.6"/></clipPath><clipPath id="cg"><polygon points="884.3,192.7 898.1,187.4 918.3,199.9 865.7,237.7 857.7,226.6"/></clipPath></defs>
<rect x="805.3" y="151.7" width="136" height="89.3" fill="#e9eef6"/>
<polygon points="842.3,188.5 877.3,173.3 898.1,187.4 884.3,192.7" fill="#68a65e"/>
<g clip-path="url(#ct)" stroke="#4e8a44" stroke-width=".5" fill="none"><path d="M838.26 201.94L885.50 178.62"/><path d="M840.58 189.06L876.22 230.14"/><path d="M845.12 210.88L893.70 183.94"/><path d="M849.76 185.12L886.74 222.58"/><path d="M851.98 219.82L901.90 189.26"/><path d="M858.94 181.18L897.26 215.02"/><path d="M858.84 228.76L910.10 194.58"/><path d="M868.12 177.24L907.78 207.46"/></g>
<polygon points="831.4,193 842.3,188.7 884.3,192.7 857.7,226.6" fill="#8a7a14"/>
<g clip-path="url(#co)" stroke="#b3a672" stroke-width=".5" fill="none"><path d="M838.26 201.94L885.50 178.62"/><path d="M840.58 189.06L876.22 230.14"/><path d="M845.12 210.88L893.70 183.94"/><path d="M849.76 185.12L886.74 222.58"/><path d="M851.98 219.82L901.90 189.26"/><path d="M858.94 181.18L897.26 215.02"/><path d="M858.84 228.76L910.10 194.58"/><path d="M868.12 177.24L907.78 207.46"/></g>
<polygon points="884.3,192.7 898.1,187.4 918.3,199.9 865.7,237.7 857.7,226.6" fill="#3f7b27"/>
<g clip-path="url(#cg)" stroke="#30681d" stroke-width=".5" fill="none"><path d="M838.26 201.94L885.50 178.62"/><path d="M840.58 189.06L876.22 230.14"/><path d="M845.12 210.88L893.70 183.94"/><path d="M849.76 185.12L886.74 222.58"/><path d="M851.98 219.82L901.90 189.26"/><path d="M858.94 181.18L897.26 215.02"/><path d="M858.84 228.76L910.10 194.58"/><path d="M868.12 177.24L907.78 207.46"/></g>
<path d="M842.3 188.7L884.3 192.9" stroke="#f4f4f0" stroke-width="1.1"/>
<path d="M873.3 196.7V186.6" stroke="#7ed321" stroke-width=".8"/>
<path d="M873.3 196.7L863 201.7" stroke="#2aa3c8" stroke-width=".8"/>
<path d="M873.3 196.7L878.3 200.3" stroke="#f08a24" stroke-width=".8"/>
<rect x="868.3" y="221.3" width="67.6" height="14.2" rx="2" fill="rgba(40,40,40,.72)"/>
</svg>
<div class="n" style="left:871.93px;top:226.60px;font-size:5.6px;color:#f2f2f2;transform:scaleX(0.959);transform-origin:0 0;">Click an object to inspect</div>
<div class="n" style="left:812.47px;top:250.30px;font-size:6.4px;color:#3a3f44;transform:scaleX(1.006);transform-origin:0 0;">Download</div>
<div class="a" style="left:813px;top:259.1px;width:36px;height:14.4px;border-radius:2px;background:#4cb05a"></div>
<div class="n" style="left:854.47px;top:250.30px;font-size:6.4px;color:#3a3f44;transform:scaleX(1.006);transform-origin:0 0;">Download</div>
<div class="a" style="left:855px;top:259.1px;width:36.299999999999955px;height:14.4px;border-radius:2px;background:#4cb05a"></div>
<div class="n" style="left:896.67px;top:250.30px;font-size:6.4px;color:#3a3f44;transform:scaleX(1.006);transform-origin:0 0;">Download</div>
<div class="a" style="left:897.2px;top:259.1px;width:36.5px;height:14.4px;border-radius:2px;background:#4cb05a"></div>
<div class="n" style="left:822.51px;top:264.00px;font-size:6.6px;color:#15301a;transform:scaleX(0.966);transform-origin:0 0;">JSON</div>
<div class="n" style="left:865.18px;top:264.00px;font-size:6.6px;color:#15301a;transform:scaleX(0.982);transform-origin:0 0;">GLTF</div>
<div class="n" style="left:910.61px;top:264.00px;font-size:6.6px;color:#15301a;transform:scaleX(0.973);transform-origin:0 0;">IFC</div>
<div class="a" style="left:805.3px;top:281.2px;width:136px;height:1px;background:#eceef0"></div>
<div class="n" style="left:812.69px;top:290.80px;font-size:6.4px;color:#3a3f44;transform:scaleX(0.970);transform-origin:0 0;-webkit-text-stroke:.15px #3a3f44">Grid-Size in m</div>
<div class="n" style="left:875.80px;top:290.80px;font-size:6.4px;color:#3a3f44;transform:scaleX(0.941);transform-origin:0 0;-webkit-text-stroke:.15px #3a3f44">Grid-Size in m<sup style="font-size:3.5px;vertical-align:3px">2</sup></div>
<div class="a" style="left:813px;top:299.9px;width:57.7px;height:14.7px;border-radius:2px;background:#e9ecef"></div>
<div class="a" style="left:876.1px;top:299.9px;width:57.9px;height:14.7px;border-radius:2px;background:#e9ecef"></div>
<div class="n" style="left:816.18px;top:304.90px;font-size:6.6px;color:#2b3035;transform:scaleX(0.976);transform-origin:0 0;">286.54 x 286.54</div>
<div class="n" style="left:879.53px;top:304.90px;font-size:6.6px;color:#2b3035;transform:scaleX(0.988);transform-origin:0 0;">82105.31</div>
<div class="n" style="left:812.17px;top:324.20px;font-size:6.4px;color:#3a3f44;transform:scaleX(1.008);transform-origin:0 0;-webkit-text-stroke:.15px #3a3f44">Division in m</div>
<div class="n" style="left:875.80px;top:324.20px;font-size:6.4px;color:#3a3f44;transform:scaleX(0.962);transform-origin:0 0;-webkit-text-stroke:.15px #3a3f44">Division in m<sup style="font-size:3.5px;vertical-align:3px">2</sup></div>
<div class="a" style="left:812.5px;top:332.8px;width:58.3px;height:14.7px;border-radius:2px;background:#e9ecef"></div>
<div class="a" style="left:876.3px;top:332.8px;width:57.7px;height:14.7px;border-radius:2px;background:#e9ecef"></div>
<div class="n" style="left:816.04px;top:337.80px;font-size:6.6px;color:#2b3035;transform:scaleX(0.982);transform-origin:0 0;">57.31 x 57.31</div>
<div class="n" style="left:879.45px;top:337.80px;font-size:6.6px;color:#2b3035;transform:scaleX(0.979);transform-origin:0 0;">3284.21</div>
<div class="a" style="left:805.3px;top:354.8px;width:136px;height:1px;background:#eceef0"></div>
<div class="a" style="left:812.7px;top:364.3px;width:7px;height:7px;border-radius:50%;background:#212529"></div>
<div class="n" style="left:814.57px;top:365.80px;font-size:5px;font-weight:700;color:#fff;transform:scaleX(2.429);transform-origin:0 0;"><i>i</i></div>
<div class="n" style="left:822.70px;top:364.30px;font-size:7.2px;color:#383d42;transform:scaleX(1.014);transform-origin:0 0;-webkit-text-stroke:.3px #383d42">Legende</div>
<div class="a" style="left:812.7px;top:378.7px;width:7.3px;height:6.8px;background:#45bb2a"></div>
<div class="n" style="left:824.39px;top:378.70px;font-size:7.4px;color:#464b51;transform:scaleX(0.960);transform-origin:0 0;">Schluff</div>
<div class="a" style="left:853px;top:378.7px;width:7.3px;height:6.8px;background:#a86a20"></div>
<div class="n" style="left:864.37px;top:378.70px;font-size:7.4px;color:#464b51;transform:scaleX(1.043);transform-origin:0 0;">Mutterboden</div>
<div class="a" style="left:812.7px;top:391.2px;width:7.3px;height:6.8px;background:#d9dc00"></div>
<div class="n" style="left:824.40px;top:391.20px;font-size:7.4px;color:#464b51;transform:scaleX(0.928);transform-origin:0 0;">Sand</div>
<div class="a" style="left:847.2px;top:391.2px;width:7.3px;height:6.8px;background:#f57208"></div>
<div class="n" style="left:859.16px;top:391.20px;font-size:7.4px;color:#464b51;transform:scaleX(0.894);transform-origin:0 0;">Kies</div>
<div class="a" style="left:805.3px;top:409.8px;width:136px;height:1px;background:#eceef0"></div>
<svg style="left:812.9px;top:419.5px" width="7" height="6.4" viewBox="0 0 14 12.8"><rect x="0" y="0" width="3.6" height="12.8" fill="#2b3035"/><rect x="4.4" y="0" width="3.4" height="9" fill="#2b3035"/><rect x="8.6" y="0" width="2.6" height="5" fill="#2b3035"/><rect x="12" y="0" width="2" height="2.6" fill="#2b3035"/></svg>
<div class="n" style="left:823.27px;top:419.00px;font-size:7.2px;color:#4a5056;transform:scaleX(1.013);transform-origin:0 0;-webkit-text-stroke:.4px #4a5056">Vergleich Bohrungen</div>
<div class="n" style="left:892.63px;top:421.00px;font-size:5.4px;color:#a3aab1;transform:scaleX(1.115);transform-origin:0 0;">(cm)</div>
<div class="a" style="left:824.7px;top:444.40px;width:109.6px;height:.6px;background:#f0f1f3"></div>
<div class="n" style="left:820.10px;top:442.70px;font-size:5.6px;color:#4a5056;">0</div>
<div class="a" style="left:824.7px;top:457.77px;width:109.6px;height:.6px;background:#f0f1f3"></div>
<div class="n" style="left:816.99px;top:456.07px;font-size:5.6px;color:#4a5056;">20</div>
<div class="a" style="left:824.7px;top:471.14px;width:109.6px;height:.6px;background:#f0f1f3"></div>
<div class="n" style="left:816.99px;top:469.44px;font-size:5.6px;color:#4a5056;">40</div>
<div class="a" style="left:824.7px;top:484.52px;width:109.6px;height:.6px;background:#f0f1f3"></div>
<div class="n" style="left:816.99px;top:482.82px;font-size:5.6px;color:#4a5056;">60</div>
<div class="a" style="left:824.7px;top:497.89px;width:109.6px;height:.6px;background:#f0f1f3"></div>
<div class="n" style="left:816.99px;top:496.19px;font-size:5.6px;color:#4a5056;">80</div>
<div class="a" style="left:824.7px;top:511.26px;width:109.6px;height:.6px;background:#f0f1f3"></div>
<div class="n" style="left:813.87px;top:509.56px;font-size:5.6px;color:#4a5056;">100</div>
<div class="a" style="left:824.7px;top:524.63px;width:109.6px;height:.6px;background:#f0f1f3"></div>
<div class="n" style="left:813.87px;top:522.93px;font-size:5.6px;color:#4a5056;">120</div>
<div class="a" style="left:824.7px;top:538.00px;width:109.6px;height:.6px;background:#f0f1f3"></div>
<div class="n" style="left:813.87px;top:536.30px;font-size:5.6px;color:#4a5056;">140</div>
<div class="a" style="left:824.7px;top:548.70px;width:109.6px;height:.6px;background:#f0f1f3"></div>
<div class="n" style="left:813.89px;top:547.00px;font-size:5.6px;color:#4a5056;">156</div>
<div class="a" style="left:827.8px;top:444.5px;width:.6px;height:104.5px;background:#eceef0"></div>
<div class="n" style="left:843.86px;top:434.70px;font-size:5.6px;color:#4a5056;">1</div>
<div class="n" style="left:879.14px;top:434.70px;font-size:5.6px;color:#4a5056;">2</div>
<div class="n" style="left:914.65px;top:434.70px;font-size:5.6px;color:#4a5056;">3</div>
<div class="a" style="left:832.7px;top:444.70px;width:25.299999999999955px;height:40.12px;background:#45bb2a"></div>
<div class="a" style="left:868px;top:444.70px;width:25.5px;height:16.05px;background:#45bb2a"></div>
<div class="a" style="left:868px;top:460.75px;width:25.5px;height:23.40px;background:#ab6e1f"></div>
<div class="a" style="left:903.5px;top:444.70px;width:25.299999999999955px;height:33.43px;background:#ab6e1f"></div>
<div class="a" style="left:903.5px;top:478.13px;width:25.299999999999955px;height:33.43px;background:#d9dc00"></div>
<div class="a" style="left:903.5px;top:511.56px;width:25.299999999999955px;height:37.44px;background:#f57208"></div>
<div class="a" style="left:805.3px;top:561.3px;width:136px;height:1px;background:#eceef0"></div>
<!-- window frame -->
<div class="a" style="left:0;top:0;width:999px;height:1px;background:linear-gradient(90deg,#c4705a 0,#c9a4a0 2%,#cbb0b2 40%,#c2a4a6 55%,#b89494 100%)"></div>
<div class="a" style="left:0;top:0;width:1px;height:10px;background:#c4603e"></div>
<div class="a" style="left:0;top:10px;width:1px;height:590px;background:#d4d4d4"></div>
<div class="a" style="left:998px;top:0;width:1px;height:10px;background:#b88070"></div>
<div class="a" style="left:998px;top:10px;width:1px;height:590px;background:#d4d4d4"></div>
<div class="a" style="left:997px;top:10px;width:1px;height:589px;background:rgba(212,212,212,.35)"></div>
<div class="a" style="left:0;top:599px;width:999px;height:1px;background:#d2d2d2"></div>
<div class="a" style="left:1px;top:598px;width:997px;height:1px;background:rgba(210,210,210,.4)"></div>
</body></html>
